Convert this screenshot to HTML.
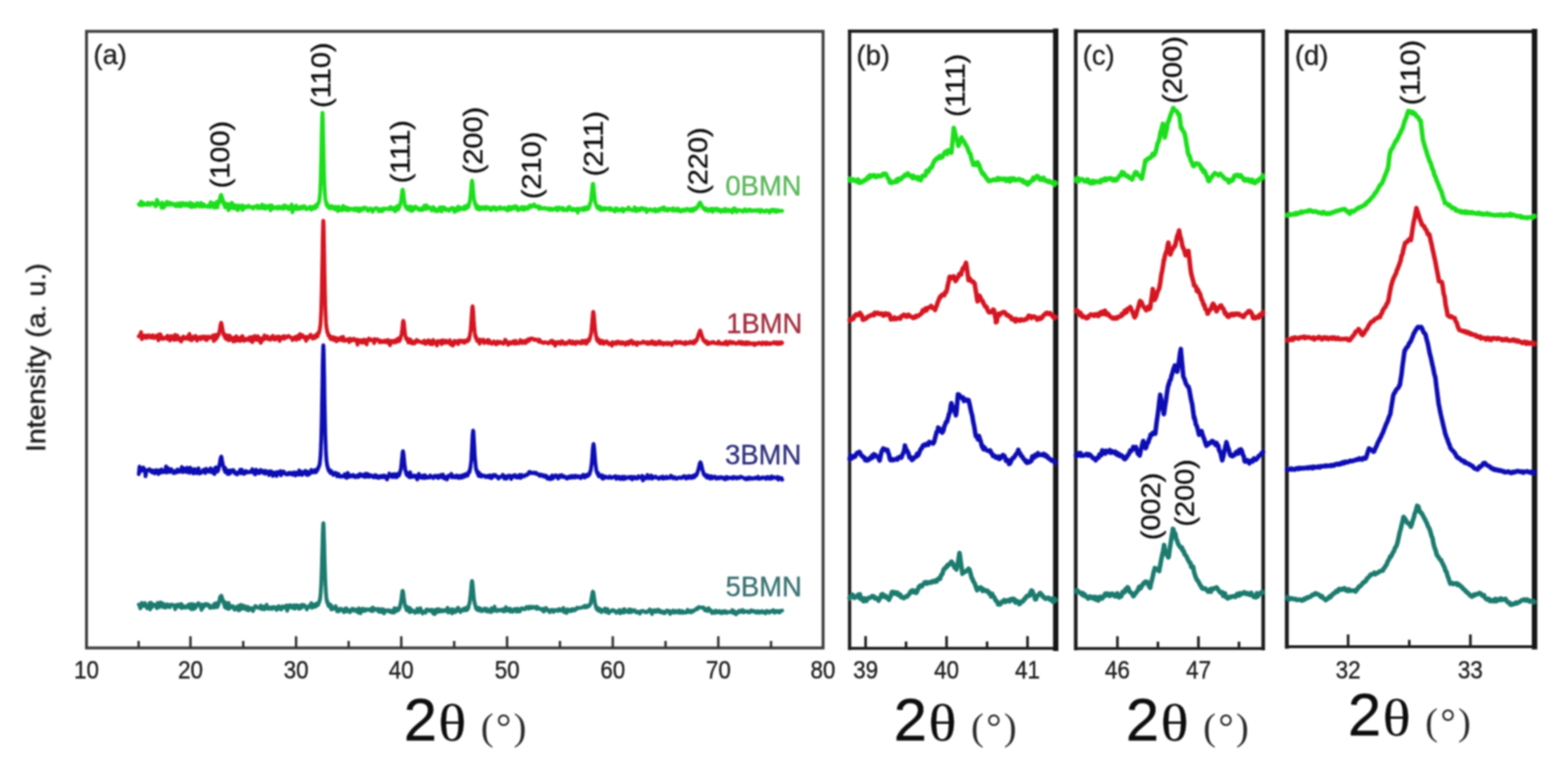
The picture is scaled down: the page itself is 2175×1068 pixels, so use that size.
<!DOCTYPE html>
<html><head><meta charset="utf-8"><title>XRD patterns</title>
<style>html,body{margin:0;padding:0;background:#fff;width:2175px;height:1068px;overflow:hidden}svg{display:block}</style>
</head><body>
<svg width="2175" height="1068" viewBox="0 0 2175 1068">
<defs><filter id="bl" x="-1%" y="-1%" width="102%" height="102%"><feGaussianBlur stdDeviation="1.25"/></filter></defs>
<rect width="2175" height="1068" fill="#fff"/>
<g filter="url(#bl)">
<g id="frames">
<rect x="120" y="43.5" width="1021.7" height="855.2" fill="none" stroke="#404040" stroke-width="4.1"/>
<line x1="264.2" y1="898.7" x2="264.2" y2="882.5" stroke="#333" stroke-width="3.4" stroke-linecap="butt"/>
<line x1="410.7" y1="898.7" x2="410.7" y2="882.5" stroke="#333" stroke-width="3.4" stroke-linecap="butt"/>
<line x1="556.6" y1="898.7" x2="556.6" y2="882.5" stroke="#333" stroke-width="3.4" stroke-linecap="butt"/>
<line x1="703.4" y1="898.7" x2="703.4" y2="882.5" stroke="#333" stroke-width="3.4" stroke-linecap="butt"/>
<line x1="850.0" y1="898.7" x2="850.0" y2="882.5" stroke="#333" stroke-width="3.4" stroke-linecap="butt"/>
<line x1="996.4" y1="898.7" x2="996.4" y2="882.5" stroke="#333" stroke-width="3.4" stroke-linecap="butt"/>
<line x1="192.3" y1="898.7" x2="192.3" y2="889.0" stroke="#333" stroke-width="3.4" stroke-linecap="butt"/>
<line x1="337.4" y1="898.7" x2="337.4" y2="889.0" stroke="#333" stroke-width="3.4" stroke-linecap="butt"/>
<line x1="483.6" y1="898.7" x2="483.6" y2="889.0" stroke="#333" stroke-width="3.4" stroke-linecap="butt"/>
<line x1="630.0" y1="898.7" x2="630.0" y2="889.0" stroke="#333" stroke-width="3.4" stroke-linecap="butt"/>
<line x1="776.7" y1="898.7" x2="776.7" y2="889.0" stroke="#333" stroke-width="3.4" stroke-linecap="butt"/>
<line x1="923.2" y1="898.7" x2="923.2" y2="889.0" stroke="#333" stroke-width="3.4" stroke-linecap="butt"/>
<line x1="1069.5" y1="898.7" x2="1069.5" y2="889.0" stroke="#333" stroke-width="3.4" stroke-linecap="butt"/>
<line x1="1178.5" y1="43.3" x2="1464.4" y2="43.3" stroke="#1e1e1e" stroke-width="4.4" stroke-linecap="square"/>
<line x1="1178.5" y1="899.3" x2="1464.4" y2="899.3" stroke="#1e1e1e" stroke-width="4.0" stroke-linecap="square"/>
<line x1="1178.5" y1="43.3" x2="1178.5" y2="899.3" stroke="#1e1e1e" stroke-width="4.6" stroke-linecap="square"/>
<line x1="1464.4" y1="43.3" x2="1464.4" y2="899.3" stroke="#161616" stroke-width="7.4" stroke-linecap="square"/>
<line x1="1200.7" y1="899.3" x2="1200.7" y2="882.3" stroke="#1e1e1e" stroke-width="3.6" stroke-linecap="butt"/>
<line x1="1313.0" y1="899.3" x2="1313.0" y2="882.3" stroke="#1e1e1e" stroke-width="3.6" stroke-linecap="butt"/>
<line x1="1425.3" y1="899.3" x2="1425.3" y2="882.3" stroke="#1e1e1e" stroke-width="3.6" stroke-linecap="butt"/>
<line x1="1256.8" y1="899.3" x2="1256.8" y2="889.8" stroke="#1e1e1e" stroke-width="3.6" stroke-linecap="butt"/>
<line x1="1369.2" y1="899.3" x2="1369.2" y2="889.8" stroke="#1e1e1e" stroke-width="3.6" stroke-linecap="butt"/>
<line x1="1492.2" y1="43.3" x2="1752.2" y2="43.3" stroke="#1e1e1e" stroke-width="4.4" stroke-linecap="square"/>
<line x1="1492.2" y1="899.5" x2="1752.2" y2="899.5" stroke="#1e1e1e" stroke-width="4.0" stroke-linecap="square"/>
<line x1="1492.2" y1="43.3" x2="1492.2" y2="899.5" stroke="#1e1e1e" stroke-width="5.0" stroke-linecap="square"/>
<line x1="1752.2" y1="43.3" x2="1752.2" y2="899.5" stroke="#1e1e1e" stroke-width="5.0" stroke-linecap="square"/>
<line x1="1550.0" y1="899.5" x2="1550.0" y2="882.5" stroke="#1e1e1e" stroke-width="3.6" stroke-linecap="butt"/>
<line x1="1662.4" y1="899.5" x2="1662.4" y2="882.5" stroke="#1e1e1e" stroke-width="3.6" stroke-linecap="butt"/>
<line x1="1606.2" y1="899.5" x2="1606.2" y2="890.0" stroke="#1e1e1e" stroke-width="3.6" stroke-linecap="butt"/>
<line x1="1718.6" y1="899.5" x2="1718.6" y2="890.0" stroke="#1e1e1e" stroke-width="3.6" stroke-linecap="butt"/>
<line x1="1785.0" y1="43.7" x2="2128.6" y2="43.7" stroke="#1e1e1e" stroke-width="4.6" stroke-linecap="square"/>
<line x1="1785.0" y1="897.0" x2="2128.6" y2="897.0" stroke="#1e1e1e" stroke-width="4.0" stroke-linecap="square"/>
<line x1="1785.0" y1="43.7" x2="1785.0" y2="897.0" stroke="#1e1e1e" stroke-width="5.4" stroke-linecap="square"/>
<line x1="2128.6" y1="43.7" x2="2128.6" y2="897.0" stroke="#141414" stroke-width="7.6" stroke-linecap="square"/>
<line x1="1870.0" y1="897.0" x2="1870.0" y2="880.0" stroke="#1e1e1e" stroke-width="3.6" stroke-linecap="butt"/>
<line x1="2039.6" y1="897.0" x2="2039.6" y2="880.0" stroke="#1e1e1e" stroke-width="3.6" stroke-linecap="butt"/>
<line x1="1954.8" y1="897.0" x2="1954.8" y2="887.5" stroke="#1e1e1e" stroke-width="3.6" stroke-linecap="butt"/>
</g>
<g id="curves">
<polyline fill="none" stroke="#1ede1e" stroke-width="5.3" stroke-linejoin="round" stroke-linecap="round" points="192.5,283.3 193.6,284.4 194.6,283.4 195.7,279.6 196.7,284.7 197.8,283.7 198.8,281.5 199.8,284.1 200.9,283.6 201.9,283.5 203.0,282.9 204.1,284.1 205.1,281.2 206.2,282.6 207.2,281.9 208.2,284.3 209.3,283.1 210.3,282.4 211.4,281.3 212.4,282.5 213.5,283.2 214.6,282.5 215.6,286.1 216.7,285.5 217.7,277.1 218.8,279.0 219.8,282.9 220.8,282.4 221.9,283.9 222.9,283.9 224.0,288.2 225.1,281.0 226.1,282.7 227.2,288.1 228.2,285.0 229.2,285.1 230.3,282.5 231.3,280.0 232.4,284.1 233.4,284.0 234.5,281.0 235.6,282.2 236.6,283.6 237.7,281.7 238.7,283.6 239.8,284.1 240.8,284.0 241.8,282.8 242.9,285.3 243.9,286.0 245.0,284.8 246.1,282.3 247.1,285.7 248.2,283.0 249.2,286.1 250.2,281.8 251.3,286.2 252.3,284.2 253.4,281.5 254.4,283.6 255.5,284.5 256.6,285.0 257.6,282.2 258.6,282.0 259.7,284.9 260.8,283.5 261.8,285.0 262.9,286.2 263.9,281.0 264.9,285.1 266.0,287.3 267.1,284.0 268.1,282.9 269.1,286.3 270.2,285.3 271.2,286.7 272.3,284.0 273.4,281.6 274.4,284.6 275.4,283.9 276.5,286.5 277.6,285.3 278.6,281.4 279.6,282.3 280.7,286.8 281.8,286.4 282.8,283.6 283.9,285.0 284.9,285.9 285.9,286.0 287.0,286.9 288.1,285.6 289.1,284.8 290.1,284.5 291.2,287.2 292.2,280.4 293.3,284.7 294.4,285.1 294.8,282.1 295.1,285.6 295.4,283.6 295.5,286.7 295.9,284.7 296.2,286.2 296.4,287.3 296.6,285.6 296.9,283.1 297.2,281.9 297.5,288.2 297.6,284.6 297.9,283.4 298.3,285.0 298.6,284.3 298.6,286.3 299.0,284.7 299.4,284.6 299.6,283.2 299.7,285.3 300.1,282.5 300.4,285.5 300.6,286.9 300.8,281.5 301.1,279.8 301.4,284.9 301.7,287.8 301.8,282.0 302.1,281.4 302.5,283.8 302.8,281.5 302.9,281.8 303.2,281.5 303.6,281.9 303.8,280.1 303.9,280.6 304.2,279.1 304.6,277.3 304.9,276.8 304.9,275.8 305.3,275.1 305.6,272.7 305.9,271.7 306.0,273.0 306.4,271.0 306.7,270.4 306.8,270.7 306.9,270.3 307.1,270.5 307.4,271.7 307.8,273.0 308.0,273.1 308.1,275.0 308.4,275.5 308.8,276.6 309.1,277.7 309.1,278.5 309.5,281.8 309.9,279.8 310.1,282.0 310.2,279.3 310.6,282.7 310.9,284.5 311.1,283.3 311.2,282.8 311.6,284.5 311.9,285.5 312.2,285.7 312.3,287.9 312.6,285.2 313.0,284.0 313.2,284.9 313.4,285.1 313.7,285.5 314.1,285.4 314.3,285.8 314.4,282.5 314.8,287.2 315.1,284.6 315.4,283.6 315.4,287.0 315.8,288.4 316.1,286.9 316.4,286.3 316.5,284.2 316.9,291.6 317.2,287.8 317.4,283.9 317.6,284.7 317.9,286.4 318.2,283.2 318.5,286.7 318.6,285.4 319.6,288.9 320.6,288.5 321.6,281.2 322.7,286.9 323.8,283.6 324.8,289.2 325.9,287.4 326.9,288.3 327.9,285.0 329.0,291.1 330.1,291.5 331.1,285.2 332.1,288.2 333.2,286.1 334.2,287.4 335.3,284.9 336.4,291.4 337.4,285.5 338.4,286.9 339.5,288.6 340.6,286.3 341.6,287.1 342.6,286.5 343.7,287.4 344.8,285.2 345.8,286.8 346.9,287.3 347.9,287.0 348.9,287.8 350.0,287.1 351.1,289.3 352.1,287.1 353.1,287.5 354.2,286.4 355.2,286.7 356.3,285.3 357.4,288.9 358.4,285.5 359.4,286.4 360.5,288.6 361.6,288.7 362.6,287.1 363.6,283.8 364.7,288.8 365.8,288.5 366.8,285.1 367.9,289.6 368.9,286.6 369.9,285.8 371.0,288.2 372.1,287.7 373.1,288.5 374.1,284.9 375.2,291.8 376.2,286.9 377.3,285.1 378.4,289.4 379.4,287.5 380.4,288.8 381.5,287.5 382.6,288.1 383.6,288.7 384.6,286.8 385.7,289.6 386.8,287.3 387.8,286.6 388.9,288.5 389.9,289.2 390.9,287.9 392.0,286.6 393.1,289.6 394.1,284.9 395.1,286.3 396.2,288.5 397.2,285.7 398.3,288.5 399.4,288.3 400.4,290.2 401.4,286.7 402.5,287.2 403.6,289.1 404.6,283.7 405.6,294.5 406.7,287.1 407.8,287.1 408.8,290.2 409.9,288.4 410.9,285.1 411.9,289.7 413.0,290.2 414.1,287.7 415.1,288.0 416.1,289.4 417.2,286.8 418.2,289.3 419.3,288.9 420.4,287.3 421.4,285.9 422.4,288.1 423.5,286.9 424.6,290.3 425.6,288.7 426.6,289.8 427.7,288.6 428.8,288.7 429.8,286.8 430.9,289.2 431.9,291.0 432.9,287.4 434.0,286.8 435.1,287.3 435.3,286.7 435.6,286.3 436.0,287.5 436.1,286.8 436.4,289.3 436.7,287.0 437.1,287.4 437.1,288.2 437.4,286.3 437.8,288.5 438.1,285.6 438.2,285.3 438.4,285.7 438.8,285.8 439.1,284.0 439.2,285.6 439.5,283.4 439.9,286.7 440.2,284.6 440.3,283.9 440.6,283.3 440.9,283.3 441.2,282.9 441.4,281.9 441.6,281.5 441.9,281.3 442.3,280.0 442.4,280.8 442.6,279.8 443.0,277.2 443.4,274.9 443.4,273.1 443.7,271.6 444.1,266.5 444.4,260.3 444.5,258.4 444.8,251.0 445.1,240.7 445.4,227.0 445.6,223.0 445.8,211.2 446.1,194.2 446.5,177.4 446.6,173.1 446.9,163.7 447.2,156.7 447.3,156.4 447.6,158.8 447.6,161.0 447.9,168.8 448.2,184.5 448.6,201.8 448.7,206.8 448.9,218.4 449.3,233.5 449.6,245.5 449.8,249.0 450.0,255.5 450.4,263.5 450.7,269.3 450.8,269.9 451.1,273.0 451.4,276.1 451.8,279.0 451.9,279.2 452.1,279.0 452.4,281.5 452.8,282.8 452.9,284.3 453.1,281.5 453.5,283.2 453.9,285.6 453.9,283.0 454.2,283.5 454.6,285.8 454.9,286.8 455.0,284.9 455.2,286.6 455.6,286.4 455.9,288.4 456.1,286.6 456.3,288.0 456.6,285.8 457.0,286.9 457.1,287.1 457.4,288.9 457.7,288.3 458.1,286.6 458.1,288.6 458.4,288.9 458.8,287.7 459.1,287.6 459.2,287.7 460.2,285.7 461.3,288.8 462.4,289.1 463.4,287.5 464.4,290.3 465.5,286.8 466.6,288.3 467.6,288.5 468.6,292.9 469.7,286.7 470.8,290.5 471.8,291.2 472.9,290.3 473.9,291.7 474.9,287.9 476.0,285.6 477.1,291.1 478.1,287.6 479.1,289.2 480.2,287.6 481.2,291.7 482.3,291.3 483.4,288.5 484.4,291.4 485.4,290.0 486.5,289.6 487.6,289.9 488.6,289.5 489.6,291.0 490.7,290.4 491.8,289.2 492.8,291.7 493.9,288.7 494.9,290.4 495.9,290.6 497.0,292.6 498.1,289.0 499.1,293.0 500.1,290.2 501.2,289.5 502.2,288.7 503.3,290.9 504.4,290.0 505.4,287.9 506.4,287.9 507.5,288.9 508.6,288.7 509.6,291.9 510.6,292.4 511.7,291.5 512.8,290.5 513.8,289.1 514.9,290.0 515.9,291.5 517.0,293.7 518.0,291.5 519.0,289.4 520.1,290.0 521.1,289.0 522.2,288.5 523.2,289.6 524.3,290.2 525.4,293.1 526.4,290.0 527.5,292.3 528.5,293.0 529.5,290.0 530.6,292.7 531.6,291.1 532.7,289.1 533.8,290.3 534.8,289.9 535.9,289.4 536.9,289.4 538.0,290.0 539.0,290.5 540.0,288.2 541.1,289.7 542.1,287.1 543.2,290.1 544.2,290.6 545.3,289.8 546.4,289.9 546.5,290.4 546.9,288.3 547.2,289.0 547.4,290.2 547.5,290.9 547.9,289.9 548.2,293.3 548.5,289.1 548.6,290.7 549.0,291.1 549.3,288.9 549.5,287.8 549.6,287.2 550.0,289.2 550.4,290.5 550.5,289.2 550.7,289.0 551.0,288.1 551.4,289.3 551.6,285.4 551.8,288.7 552.1,288.2 552.5,286.2 552.6,290.7 552.8,286.0 553.1,286.1 553.5,285.7 553.7,288.2 553.9,285.7 554.2,286.9 554.5,286.1 554.8,285.2 554.9,283.4 555.2,282.9 555.6,283.3 555.8,280.1 556.0,279.6 556.3,277.9 556.6,275.9 556.9,274.0 557.0,272.9 557.4,269.1 557.7,266.9 557.9,265.3 558.0,263.7 558.4,263.5 558.5,263.7 558.8,263.1 559.0,264.2 559.1,265.6 559.5,267.2 559.8,270.0 560.0,272.0 560.1,273.6 560.5,276.3 560.9,279.4 561.0,280.4 561.2,280.1 561.5,283.1 561.9,285.6 562.1,285.7 562.2,285.9 562.6,285.8 563.0,287.5 563.1,285.6 563.3,287.8 563.6,287.2 564.0,289.0 564.2,288.4 564.4,286.5 564.7,288.3 565.0,289.9 565.2,286.8 565.4,287.6 565.8,287.5 566.1,286.5 566.3,290.1 566.5,290.7 566.8,290.1 567.1,289.3 567.4,288.9 567.5,289.4 567.9,288.0 568.2,290.5 568.4,290.8 568.5,290.6 568.9,288.4 569.2,289.4 569.5,289.1 569.6,292.2 570.0,289.7 570.3,286.4 570.5,290.1 571.5,292.5 572.6,290.7 573.6,291.1 574.7,289.7 575.8,286.4 576.8,286.7 577.9,287.7 578.9,289.6 580.0,290.3 581.0,291.0 582.0,289.2 583.1,291.4 584.1,289.4 585.2,288.7 586.2,291.3 587.3,288.3 588.4,285.3 589.4,288.1 590.5,290.0 591.5,284.7 592.5,289.3 593.6,289.3 594.6,287.5 595.7,287.4 596.8,289.1 597.8,289.0 598.9,292.0 599.9,290.5 601.0,287.2 602.0,288.5 603.0,291.1 604.1,293.0 605.1,290.5 606.2,290.4 607.2,293.0 608.3,289.8 609.4,289.3 610.4,287.5 611.5,289.0 612.5,293.4 613.5,287.5 614.6,289.8 615.6,287.5 616.7,290.0 617.8,291.2 618.8,289.4 619.9,291.0 620.9,290.9 622.0,290.5 623.0,292.5 624.0,291.0 625.1,289.2 626.1,288.6 627.2,288.3 628.2,290.4 629.3,289.1 630.4,294.0 631.4,292.5 632.5,289.2 633.5,289.0 634.5,292.2 635.6,286.5 636.6,288.7 637.7,290.8 638.8,287.9 639.8,288.5 640.9,288.6 641.9,290.0 642.8,289.1 643.0,289.5 643.1,289.8 643.5,288.9 643.9,290.4 644.0,287.7 644.2,286.7 644.5,286.2 644.9,286.4 645.0,287.8 645.2,289.9 645.6,288.6 646.0,287.5 646.1,286.8 646.3,287.5 646.6,287.5 647.0,287.2 647.1,286.1 647.4,287.1 647.7,288.7 648.0,284.8 648.2,286.9 648.4,284.7 648.8,287.0 649.1,285.6 649.2,284.1 649.5,286.1 649.8,287.2 650.1,284.9 650.3,285.5 650.5,283.9 650.9,281.3 651.2,281.9 651.4,280.6 651.5,279.0 651.9,278.2 652.2,275.3 652.4,273.6 652.6,272.4 653.0,268.0 653.3,264.4 653.5,262.0 653.6,259.9 654.0,255.4 654.4,252.7 654.5,251.5 654.7,251.1 654.8,250.5 655.0,251.1 655.4,253.8 655.5,254.5 655.8,257.1 656.1,262.0 656.5,266.1 656.6,268.1 656.8,269.8 657.1,273.6 657.5,276.0 657.6,276.7 657.9,277.7 658.2,280.3 658.5,281.8 658.7,282.3 658.9,280.6 659.2,282.6 659.6,284.6 659.8,285.6 660.0,285.1 660.3,285.2 660.6,284.1 660.8,288.8 661.0,285.6 661.4,289.0 661.7,289.2 661.9,287.8 662.0,286.9 662.4,287.9 662.8,286.4 662.9,288.3 663.1,288.0 663.5,288.8 663.8,289.5 664.0,290.6 664.1,287.8 664.5,289.8 664.9,287.4 665.0,287.3 665.2,287.7 665.5,287.3 665.9,290.1 666.0,290.0 666.2,290.5 666.6,288.8 667.1,289.3 668.1,288.1 669.2,287.4 670.2,289.8 671.3,289.6 672.4,287.6 673.4,290.1 674.5,286.7 675.5,289.0 676.5,288.4 677.6,288.5 678.6,287.7 679.7,290.8 680.8,290.3 681.8,291.2 682.9,289.6 683.9,287.4 685.0,288.8 686.0,287.6 687.0,290.1 688.1,291.3 689.1,289.9 690.2,288.5 691.2,288.8 692.3,289.7 693.4,287.2 694.4,289.6 695.5,289.7 696.5,288.5 697.5,288.7 698.6,289.6 699.6,288.1 700.7,288.1 701.8,290.6 702.8,289.7 703.9,292.0 704.9,287.9 706.0,286.7 707.0,290.8 708.0,290.9 709.1,288.3 710.1,287.2 711.2,289.4 712.2,286.8 713.3,288.9 714.4,286.1 715.4,289.1 716.5,286.3 717.5,289.1 718.5,291.7 719.6,289.0 720.6,290.5 721.7,288.4 722.8,288.0 723.8,287.1 724.9,290.6 725.9,288.9 727.0,291.1 728.0,287.1 729.0,288.2 730.1,288.3 731.1,289.6 732.2,289.6 733.2,286.5 734.3,285.7 735.4,284.8 736.4,287.5 737.5,285.9 738.5,285.2 739.5,285.7 740.6,283.4 741.6,284.3 742.7,286.9 743.8,286.7 744.8,286.8 745.9,286.0 746.9,288.0 748.0,289.7 749.0,286.7 750.0,288.4 751.1,288.1 752.1,289.4 753.2,289.1 754.2,289.0 755.3,288.2 756.4,289.4 757.4,288.7 758.5,289.4 759.5,289.6 760.5,290.6 761.6,288.9 762.6,289.3 763.7,291.3 764.8,289.5 765.8,289.4 766.9,291.0 767.9,290.2 769.0,290.0 770.0,290.1 771.0,288.1 772.1,290.5 773.1,291.8 774.2,290.7 775.2,287.7 776.3,290.3 777.4,288.6 778.4,289.6 779.5,290.1 780.5,288.2 781.5,291.8 782.6,289.8 783.6,291.1 784.7,290.8 785.8,291.8 786.8,291.6 787.9,287.9 788.9,290.0 790.0,287.0 791.0,289.3 792.0,291.0 793.1,291.2 794.1,291.7 795.2,289.4 796.2,290.4 797.3,290.1 798.4,291.7 799.4,292.1 800.5,289.4 801.5,295.0 802.5,289.9 803.6,289.4 804.6,290.6 805.7,290.8 806.8,290.4 807.8,288.8 808.9,291.4 809.9,289.5 810.5,291.3 810.9,291.0 811.0,287.8 811.2,288.1 811.5,288.1 811.9,289.5 812.0,289.2 812.2,289.4 812.6,288.1 813.0,289.4 813.0,290.5 813.3,287.4 813.6,288.5 814.0,288.9 814.1,288.5 814.4,288.3 814.7,290.2 815.0,289.5 815.1,289.0 815.4,287.2 815.8,289.9 816.1,287.8 816.2,286.9 816.5,286.9 816.8,286.4 817.1,288.1 817.2,286.4 817.5,285.8 817.9,283.5 818.2,284.7 818.3,283.2 818.5,282.4 818.9,282.1 819.2,279.6 819.4,279.9 819.6,278.5 820.0,274.8 820.3,272.6 820.4,271.2 820.6,269.3 821.0,266.0 821.4,261.8 821.5,261.5 821.7,258.7 822.0,256.0 822.4,254.9 822.5,255.1 822.8,255.0 823.1,257.2 823.5,259.9 823.5,261.4 823.8,263.7 824.1,267.2 824.5,271.2 824.6,271.3 824.9,273.8 825.2,277.4 825.5,278.9 825.6,280.2 825.9,281.0 826.2,282.0 826.6,283.5 826.7,284.0 827.0,284.4 827.3,284.9 827.6,285.5 827.8,285.1 828.0,286.7 828.4,287.4 828.7,288.1 828.8,285.8 829.0,288.5 829.4,287.9 829.8,286.8 829.9,288.3 830.1,289.2 830.5,289.1 830.8,289.5 830.9,289.7 831.1,289.8 831.5,288.9 831.9,286.7 832.0,288.2 832.2,289.5 832.5,288.7 832.9,290.1 833.0,290.3 833.2,289.4 833.6,291.6 834.0,288.4 834.0,290.6 834.3,289.0 835.1,288.7 836.1,290.5 837.2,289.1 838.2,291.1 839.3,288.6 840.4,290.2 841.4,289.1 842.5,289.9 843.5,289.8 844.5,288.8 845.6,291.2 846.6,288.7 847.7,289.1 848.8,291.5 849.8,291.7 850.9,291.3 851.9,290.9 853.0,293.4 854.0,288.9 855.0,289.5 856.1,289.2 857.1,291.7 858.2,290.9 859.2,292.0 860.3,291.8 861.4,290.3 862.4,289.5 863.5,289.3 864.5,293.5 865.5,291.9 866.6,291.4 867.6,290.2 868.7,290.4 869.8,290.2 870.8,290.3 871.9,287.6 872.9,290.6 874.0,290.2 875.0,291.1 876.0,291.0 877.1,291.9 878.1,290.7 879.2,291.8 880.2,287.5 881.3,289.4 882.4,293.0 883.4,289.2 884.5,290.5 885.5,291.7 886.5,289.7 887.6,291.8 888.6,289.0 889.7,288.4 890.8,289.2 891.8,288.8 892.9,290.9 893.9,290.5 895.0,291.3 896.0,289.6 897.0,294.1 898.1,290.8 899.1,290.9 900.2,291.5 901.2,290.6 902.3,290.2 903.4,291.1 904.4,292.1 905.5,291.8 906.5,292.2 907.5,290.3 908.6,290.0 909.6,293.5 910.7,290.7 911.8,291.6 912.8,292.0 913.9,292.8 914.9,289.4 916.0,290.5 917.0,290.5 918.0,290.7 919.1,288.1 920.1,291.0 921.2,287.6 922.2,291.5 923.3,291.8 924.4,291.9 925.4,289.7 926.5,292.3 927.5,290.1 928.5,289.7 929.6,290.0 930.6,290.1 931.7,291.4 932.8,292.2 933.8,288.7 934.9,290.5 935.9,292.3 937.0,291.5 938.0,291.8 939.0,289.4 940.1,292.4 941.1,289.4 942.2,291.5 943.2,292.9 944.3,293.5 945.4,291.8 946.4,292.3 947.5,290.5 948.5,290.7 949.5,292.6 950.6,291.2 951.6,291.1 952.7,289.6 953.8,291.4 954.8,291.9 955.9,290.2 956.9,290.5 958.0,292.8 959.0,291.2 959.4,290.6 959.7,289.7 960.0,290.2 960.4,290.6 960.8,292.3 961.1,290.1 961.5,292.6 961.8,289.7 962.1,290.3 962.5,291.4 962.9,290.3 963.2,289.6 963.5,290.2 963.9,290.6 964.2,288.4 964.6,289.7 965.0,289.6 965.3,289.1 965.6,289.9 966.0,288.5 966.4,288.3 966.7,288.2 967.0,288.2 967.4,287.0 967.8,287.6 968.1,285.4 968.5,286.0 968.8,284.0 969.1,283.6 969.5,283.1 969.9,283.2 970.2,282.1 970.5,281.1 970.9,281.6 971.0,281.0 971.2,280.8 971.6,281.6 972.0,282.0 972.3,283.0 972.6,283.0 973.0,284.3 973.4,285.2 973.7,285.8 974.0,286.3 974.4,286.5 974.8,288.1 975.1,288.1 975.5,288.8 975.8,288.5 976.1,289.2 976.5,288.6 976.9,289.8 977.2,290.6 977.5,290.2 977.9,291.0 978.2,290.7 978.6,291.8 979.0,290.4 979.3,289.0 979.6,291.2 980.0,290.6 980.4,289.9 980.7,291.6 981.0,291.2 981.4,291.5 981.8,290.7 982.1,291.3 982.5,291.4 982.8,293.0 983.1,290.5 984.2,291.3 985.2,291.7 986.3,289.5 987.4,289.7 988.4,293.8 989.5,289.6 990.5,292.2 991.5,290.6 992.6,290.7 993.6,289.4 994.7,290.6 995.8,292.5 996.8,290.1 997.9,292.3 998.9,292.0 1000.0,293.9 1001.0,291.2 1002.0,293.1 1003.1,292.7 1004.1,291.5 1005.2,289.9 1006.2,293.5 1007.3,290.3 1008.4,291.3 1009.4,292.8 1010.5,293.1 1011.5,290.9 1012.5,291.8 1013.6,291.6 1014.6,293.2 1015.7,294.6 1016.8,289.9 1017.8,292.9 1018.9,288.8 1019.9,292.0 1021.0,290.7 1022.0,294.1 1023.0,292.1 1024.1,291.2 1025.2,291.4 1026.2,291.4 1027.2,292.2 1028.3,291.8 1029.3,292.7 1030.4,293.7 1031.5,292.8 1032.5,290.7 1033.5,290.3 1034.6,291.3 1035.7,293.2 1036.7,291.7 1037.8,291.4 1038.8,292.3 1039.8,290.6 1040.9,290.9 1042.0,292.7 1043.0,291.8 1044.0,291.7 1045.1,292.5 1046.2,291.6 1047.2,291.5 1048.2,291.7 1049.3,292.8 1050.3,292.3 1051.4,291.0 1052.5,291.9 1053.5,292.9 1054.5,294.2 1055.6,291.1 1056.7,292.6 1057.7,292.0 1058.8,293.1 1059.8,292.7 1060.8,293.8 1061.9,292.8 1063.0,291.7 1064.0,291.8 1065.0,292.7 1066.1,292.7 1067.2,294.8 1068.2,294.1 1069.2,291.2 1070.3,292.7 1071.3,291.0 1072.4,290.7 1073.5,293.1 1074.5,293.0 1075.5,291.4 1076.6,294.1 1077.7,291.4 1078.7,291.3 1079.8,293.1 1080.8,292.7 1081.8,292.3 1082.9,292.4 1084.0,292.7 1085.0,292.4"/>
<polyline fill="none" stroke="#d41820" stroke-width="5.3" stroke-linejoin="round" stroke-linecap="round" points="192.5,466.5 193.6,464.9 194.6,465.2 195.7,460.6 196.7,470.4 197.8,468.9 198.8,465.6 199.8,468.2 200.9,467.1 201.9,465.3 203.0,468.8 204.1,465.9 205.1,466.0 206.2,465.0 207.2,467.8 208.2,466.6 209.3,468.2 210.3,465.6 211.4,467.3 212.4,465.1 213.5,469.0 214.6,467.6 215.6,468.0 216.7,468.2 217.7,465.1 218.8,469.2 219.8,472.1 220.8,463.8 221.9,463.7 222.9,464.2 224.0,469.6 225.1,468.0 226.1,470.2 227.2,469.4 228.2,468.3 229.2,468.6 230.3,467.6 231.3,470.0 232.4,465.6 233.4,467.2 234.5,468.7 235.6,472.3 236.6,466.6 237.7,466.0 238.7,467.2 239.8,470.6 240.8,468.0 241.8,471.4 242.9,464.3 243.9,471.0 245.0,470.8 246.1,465.4 247.1,468.9 248.2,471.2 249.2,468.7 250.2,470.8 251.3,473.8 252.3,469.2 253.4,468.0 254.4,466.9 255.5,470.0 256.6,468.2 257.6,468.2 258.6,468.4 259.7,470.0 260.8,466.3 261.8,465.3 262.9,463.3 263.9,471.3 264.9,468.8 266.0,471.9 267.1,468.6 268.1,467.1 269.1,469.7 270.2,468.5 271.2,466.0 272.3,466.8 273.4,472.5 274.4,469.5 275.4,469.6 276.5,468.1 277.6,467.2 278.6,470.6 279.6,468.5 280.7,467.1 281.8,468.4 282.8,466.8 283.9,469.1 284.9,471.1 285.9,466.9 287.0,471.7 288.1,467.3 289.1,469.0 290.1,466.9 291.2,468.1 292.2,468.7 293.3,467.6 294.4,467.1 294.8,467.1 295.1,466.8 295.4,465.3 295.5,467.9 295.9,469.1 296.2,470.1 296.4,469.5 296.6,473.0 296.9,468.8 297.2,467.3 297.5,471.6 297.6,466.1 297.9,469.8 298.3,466.2 298.6,468.6 298.6,464.3 299.0,469.4 299.4,467.4 299.6,465.9 299.7,470.5 300.1,468.8 300.4,467.4 300.6,466.0 300.8,467.1 301.1,466.7 301.4,467.8 301.7,467.7 301.8,465.4 302.1,465.2 302.5,464.8 302.8,463.3 302.9,464.1 303.2,463.9 303.6,463.8 303.8,463.5 303.9,461.1 304.2,460.9 304.6,458.4 304.9,458.8 304.9,456.8 305.3,455.0 305.6,452.0 305.9,450.7 306.0,450.7 306.4,448.9 306.7,448.5 306.8,447.6 306.9,448.7 307.1,448.1 307.4,450.6 307.8,451.3 308.0,453.6 308.1,452.8 308.4,456.0 308.8,457.2 309.1,458.8 309.1,459.7 309.5,461.0 309.9,463.0 310.1,464.3 310.2,464.6 310.6,464.7 310.9,463.8 311.1,464.9 311.2,465.9 311.6,463.6 311.9,468.1 312.2,466.9 312.3,467.0 312.6,469.1 313.0,468.9 313.2,468.4 313.4,466.4 313.7,468.7 314.1,468.9 314.3,466.9 314.4,470.3 314.8,469.5 315.1,465.1 315.4,469.0 315.4,466.5 315.8,471.0 316.1,470.5 316.4,466.9 316.5,467.4 316.9,469.3 317.2,468.7 317.4,472.1 317.6,470.6 317.9,468.7 318.2,470.4 318.5,465.4 318.6,470.0 319.6,471.2 320.6,469.3 321.6,468.3 322.7,470.9 323.8,473.8 324.8,470.4 325.9,467.8 326.9,473.1 327.9,466.4 329.0,471.3 330.1,469.1 331.1,472.2 332.1,468.6 333.2,473.0 334.2,470.9 335.3,466.7 336.4,466.2 337.4,469.6 338.4,472.9 339.5,470.5 340.6,470.3 341.6,469.7 342.6,471.7 343.7,470.9 344.8,470.7 345.8,468.1 346.9,472.5 347.9,472.8 348.9,467.4 350.0,474.7 351.1,471.5 352.1,469.0 353.1,466.1 354.2,471.3 355.2,471.1 356.3,468.7 357.4,466.2 358.4,472.1 359.4,468.6 360.5,468.9 361.6,475.6 362.6,474.1 363.6,471.7 364.7,468.8 365.8,471.0 366.8,465.1 367.9,469.9 368.9,468.1 369.9,467.0 371.0,466.4 372.1,470.6 373.1,469.7 374.1,469.9 375.2,471.2 376.2,467.8 377.3,467.0 378.4,465.9 379.4,468.8 380.4,470.9 381.5,469.1 382.6,470.6 383.6,467.0 384.6,468.4 385.7,467.8 386.8,466.8 387.8,472.9 388.9,470.9 389.9,467.7 390.9,467.7 392.0,469.0 393.1,466.3 394.1,469.9 395.1,466.5 396.2,468.3 397.2,467.0 398.3,468.0 399.4,466.4 400.4,465.9 401.4,467.0 402.5,467.6 403.6,468.3 404.6,469.0 405.6,471.7 406.7,470.3 407.8,468.2 408.8,470.1 409.9,467.3 410.9,471.4 411.9,469.6 413.0,466.0 414.1,469.9 415.1,470.0 416.1,463.4 417.2,467.0 418.2,467.5 419.3,464.7 420.4,466.3 421.4,466.5 422.4,469.1 423.5,468.6 424.6,472.7 425.6,467.2 426.6,469.9 427.7,467.9 428.8,468.1 429.8,465.6 430.9,464.3 431.9,466.2 432.9,468.6 434.0,469.7 435.1,468.0 436.1,467.6 436.5,465.6 436.9,468.8 437.1,468.4 437.2,465.8 437.6,466.4 437.9,465.0 438.2,468.0 438.2,466.6 438.6,465.8 438.9,466.2 439.2,466.0 439.3,465.0 439.6,463.8 440.0,463.5 440.3,462.7 440.4,465.1 440.7,466.5 441.1,462.1 441.4,463.4 441.4,463.6 441.8,461.7 442.1,462.1 442.4,460.4 442.4,462.1 442.8,459.7 443.1,459.0 443.4,458.1 443.5,457.1 443.9,454.4 444.2,452.5 444.5,450.2 444.6,449.2 444.9,444.6 445.2,437.7 445.6,430.8 445.6,429.6 445.9,418.4 446.3,404.8 446.6,390.4 446.6,387.8 447.0,368.8 447.4,348.9 447.6,332.1 447.7,329.6 448.1,314.2 448.4,306.6 448.5,306.2 448.7,307.8 448.8,308.7 449.1,320.2 449.4,337.6 449.8,355.0 449.8,357.9 450.1,377.8 450.5,395.7 450.8,409.2 450.9,411.0 451.2,423.9 451.6,433.8 451.9,440.7 451.9,441.4 452.2,447.5 452.6,452.2 452.9,453.7 452.9,455.3 453.3,456.0 453.6,457.6 453.9,460.2 454.0,460.4 454.4,461.9 454.7,461.2 455.0,463.2 455.1,463.5 455.4,465.2 455.8,464.6 456.1,465.7 456.1,464.3 456.4,465.5 456.8,465.7 457.1,467.3 457.1,465.5 457.5,465.9 457.9,467.9 458.1,469.6 458.2,468.0 458.6,468.1 458.9,467.6 459.2,469.6 459.2,468.9 459.6,470.7 459.9,469.0 460.2,467.5 460.3,468.0 461.3,467.8 462.4,467.7 463.4,471.8 464.4,471.4 465.5,468.5 466.6,473.5 467.6,471.3 468.6,469.4 469.7,471.9 470.8,471.2 471.8,470.1 472.9,468.1 473.9,471.6 474.9,472.1 476.0,467.2 477.1,472.7 478.1,472.9 479.1,471.0 480.2,472.1 481.2,471.5 482.3,470.5 483.4,471.4 484.4,474.5 485.4,469.6 486.5,472.6 487.6,472.6 488.6,471.0 489.6,471.5 490.7,469.9 491.8,470.9 492.8,472.5 493.9,473.1 494.9,470.9 495.9,478.1 497.0,471.6 498.1,472.9 499.1,472.2 500.1,472.0 501.2,475.1 502.2,471.9 503.3,475.2 504.4,474.9 505.4,471.0 506.4,474.8 507.5,471.8 508.6,477.9 509.6,472.3 510.6,471.3 511.7,469.6 512.8,470.8 513.8,472.1 514.9,471.4 515.9,471.0 517.0,472.0 518.0,472.9 519.0,475.9 520.1,470.3 521.1,472.3 522.2,471.7 523.2,470.7 524.3,471.2 525.4,471.8 526.4,474.7 527.5,473.1 528.5,472.6 529.5,474.6 530.6,474.1 531.6,473.2 532.7,474.3 533.8,472.2 534.8,474.7 535.9,474.5 536.9,473.0 538.0,471.6 539.0,476.3 540.0,473.9 541.1,478.9 542.1,472.6 543.2,475.1 544.2,472.9 545.3,474.0 546.4,474.9 547.4,472.2 547.5,473.3 547.9,473.7 548.2,473.6 548.5,474.3 548.5,475.0 548.9,474.6 549.2,473.7 549.5,472.7 549.6,471.5 550.0,472.1 550.3,472.3 550.5,474.1 550.6,472.5 551.0,471.1 551.4,473.8 551.6,471.6 551.7,471.7 552.0,472.3 552.4,473.2 552.6,469.1 552.8,470.8 553.1,472.4 553.5,471.5 553.7,470.7 553.8,471.0 554.1,473.1 554.5,470.5 554.8,471.5 554.9,471.4 555.2,469.5 555.5,469.6 555.8,468.1 555.9,467.6 556.2,466.0 556.6,466.0 556.9,463.7 557.0,463.1 557.3,460.4 557.6,459.2 557.9,456.5 558.0,455.2 558.4,451.8 558.7,448.4 559.0,447.2 559.0,446.6 559.4,444.9 559.5,445.6 559.8,445.9 560.0,446.5 560.1,447.3 560.5,450.1 560.8,453.5 561.0,455.7 561.1,455.9 561.5,460.4 561.9,462.4 562.1,464.6 562.2,465.2 562.5,466.0 562.9,467.9 563.1,469.1 563.2,469.5 563.6,469.5 564.0,469.7 564.2,470.8 564.3,470.0 564.6,470.7 565.0,469.3 565.2,472.1 565.4,470.7 565.7,471.6 566.0,472.4 566.3,473.0 566.4,475.2 566.8,473.1 567.1,471.0 567.4,473.2 567.5,472.2 567.8,473.8 568.1,472.3 568.4,472.3 568.5,472.6 568.9,472.5 569.2,470.8 569.5,472.6 569.5,473.6 569.9,475.5 570.2,473.3 570.5,473.2 570.6,474.7 571.0,474.7 571.3,476.4 571.5,474.8 572.6,474.0 573.6,476.2 574.7,476.6 575.8,473.4 576.8,474.5 577.9,471.5 578.9,473.8 580.0,472.9 581.0,474.1 582.0,473.7 583.1,474.2 584.1,474.4 585.2,475.4 586.2,475.0 587.3,473.7 588.4,472.5 589.4,476.7 590.5,477.1 591.5,473.9 592.5,475.7 593.6,472.2 594.6,472.2 595.7,474.3 596.8,477.3 597.8,473.1 598.9,473.5 599.9,477.6 601.0,471.7 602.0,476.0 603.0,475.7 604.1,474.5 605.1,475.2 606.2,479.2 607.2,473.0 608.3,474.4 609.4,474.5 610.4,473.7 611.5,472.6 612.5,477.5 613.5,475.2 614.6,472.0 615.6,473.7 616.7,475.5 617.8,475.5 618.8,472.5 619.9,474.7 620.9,475.3 622.0,475.5 623.0,475.5 624.0,471.9 625.1,477.8 626.1,475.1 627.2,477.7 628.2,479.3 629.3,474.5 630.4,472.8 631.4,476.1 632.5,474.4 633.5,473.9 634.5,473.0 635.6,477.2 636.6,473.9 637.7,472.4 638.8,473.8 639.8,472.6 640.9,474.5 641.9,473.5 643.0,472.5 643.5,474.8 643.9,473.0 644.0,474.8 644.2,475.5 644.5,473.2 644.9,472.8 645.0,473.9 645.2,474.7 645.6,473.5 646.0,473.5 646.1,473.3 646.3,473.6 646.6,473.9 647.0,472.1 647.1,472.3 647.4,472.8 647.7,471.8 648.0,472.5 648.2,472.9 648.4,472.1 648.8,471.2 649.1,470.7 649.2,473.2 649.5,472.0 649.8,469.6 650.1,469.4 650.3,471.6 650.5,470.8 650.9,468.8 651.2,468.5 651.4,466.0 651.5,466.3 651.9,465.0 652.2,461.4 652.4,460.9 652.6,460.0 653.0,456.8 653.3,452.1 653.5,450.4 653.6,448.0 654.0,442.1 654.4,436.3 654.5,434.3 654.7,431.2 655.0,427.4 655.4,425.1 655.5,424.8 655.5,425.4 655.8,425.6 656.1,428.8 656.5,433.6 656.6,436.0 656.8,439.1 657.1,444.7 657.5,449.6 657.6,451.2 657.9,454.0 658.2,457.8 658.5,460.8 658.7,462.1 658.9,463.0 659.2,466.2 659.6,468.0 659.8,465.9 660.0,468.1 660.3,468.5 660.6,467.5 660.8,470.5 661.0,469.9 661.4,470.6 661.7,470.7 661.9,472.6 662.0,473.0 662.4,472.3 662.8,473.0 662.9,472.2 663.1,472.6 663.5,471.8 663.8,472.9 664.0,472.1 664.1,473.5 664.5,474.2 664.9,473.7 665.0,474.8 665.2,476.8 665.5,470.8 665.9,473.6 666.0,472.9 666.2,473.1 666.6,471.9 667.0,473.9 667.1,473.5 667.3,473.0 668.1,473.7 669.2,473.3 670.2,470.9 671.3,475.9 672.4,474.0 673.4,473.1 674.5,475.0 675.5,473.6 676.5,471.4 677.6,476.0 678.6,472.1 679.7,474.4 680.8,474.9 681.8,476.8 682.9,476.6 683.9,475.0 685.0,473.6 686.0,474.2 687.0,476.5 688.1,477.6 689.1,475.7 690.2,473.8 691.2,476.4 692.3,474.3 693.4,474.2 694.4,474.4 695.5,475.8 696.5,475.3 697.5,476.4 698.6,476.8 699.6,475.7 700.7,471.3 701.8,472.3 702.8,475.1 703.9,474.8 704.9,478.2 706.0,474.9 707.0,474.7 708.0,476.3 709.1,476.5 710.1,474.6 711.2,475.6 712.2,473.2 713.3,473.5 714.4,476.8 715.4,472.8 716.5,476.3 717.5,475.9 718.5,476.1 719.6,476.3 720.6,475.7 721.7,471.7 722.8,473.4 723.8,473.9 724.9,476.0 725.9,473.0 727.0,473.5 728.0,473.8 729.0,475.8 730.1,472.0 731.1,471.8 732.2,473.7 733.2,470.3 734.3,472.3 735.4,471.1 736.4,469.6 737.5,470.2 738.5,469.5 739.5,470.3 740.6,470.5 741.6,471.6 742.7,470.7 743.8,471.2 744.8,471.1 745.9,472.1 746.9,473.7 748.0,471.0 749.0,474.3 750.0,473.3 751.1,474.3 752.1,474.9 753.2,475.8 754.2,475.1 755.3,474.4 756.4,475.4 757.4,475.0 758.5,474.8 759.5,475.4 760.5,476.4 761.6,475.3 762.6,475.4 763.7,473.3 764.8,475.0 765.8,472.5 766.9,476.2 767.9,473.9 769.0,477.1 770.0,479.5 771.0,474.7 772.1,477.1 773.1,475.8 774.2,474.5 775.2,474.1 776.3,476.1 777.4,477.2 778.4,475.8 779.5,473.1 780.5,473.8 781.5,474.9 782.6,477.2 783.6,475.7 784.7,475.7 785.8,477.0 786.8,475.0 787.9,475.2 788.9,475.0 790.0,472.8 791.0,475.9 792.0,475.8 793.1,476.6 794.1,473.6 795.2,474.1 796.2,476.5 797.3,475.7 798.4,477.1 799.4,474.0 800.5,475.4 801.5,474.2 802.5,475.5 803.6,474.4 804.6,475.7 805.7,476.4 806.8,475.8 807.8,472.6 808.9,475.9 809.9,475.2 811.0,473.3 811.0,473.4 811.4,474.4 811.7,475.0 812.0,473.8 812.0,472.4 812.4,474.5 812.8,474.3 813.0,476.8 813.1,472.6 813.5,476.7 813.8,475.7 814.1,474.0 814.1,475.4 814.5,473.6 814.9,474.4 815.1,472.5 815.2,473.3 815.5,472.0 815.9,471.2 816.2,472.2 816.2,471.8 816.6,472.6 817.0,472.8 817.2,471.2 817.3,471.3 817.6,470.9 818.0,468.8 818.3,469.5 818.4,469.2 818.7,468.1 819.0,466.2 819.4,464.4 819.4,465.0 819.8,463.2 820.1,461.1 820.4,458.4 820.5,458.1 820.8,454.2 821.1,450.4 821.5,446.4 821.5,445.9 821.9,441.6 822.2,437.8 822.5,434.6 822.5,434.0 822.9,432.9 823.0,432.5 823.2,433.1 823.5,434.9 823.6,435.2 824.0,439.2 824.3,443.4 824.6,446.9 824.6,447.7 825.0,451.8 825.4,455.9 825.6,458.4 825.7,458.7 826.0,461.5 826.4,463.8 826.7,465.8 826.8,465.4 827.1,467.4 827.5,468.9 827.8,471.1 827.8,470.2 828.1,468.2 828.5,470.6 828.8,471.2 828.9,471.8 829.2,473.3 829.5,473.0 829.9,470.5 829.9,472.9 830.2,473.0 830.6,473.5 830.9,474.7 831.0,472.3 831.3,474.6 831.6,472.0 832.0,473.9 832.0,474.2 832.4,476.4 832.7,473.3 833.0,472.3 833.0,474.9 833.4,473.5 833.8,476.1 834.0,473.6 834.1,473.4 834.5,475.9 834.8,474.7 835.1,475.8 836.1,473.1 837.2,476.9 838.2,474.3 839.3,476.1 840.4,473.9 841.4,473.3 842.5,475.0 843.5,475.6 844.5,477.4 845.6,475.9 846.6,476.4 847.7,476.3 848.8,479.5 849.8,474.5 850.9,477.2 851.9,475.4 853.0,475.9 854.0,474.9 855.0,477.1 856.1,474.0 857.1,473.9 858.2,475.4 859.2,474.2 860.3,476.6 861.4,476.9 862.4,474.7 863.5,476.7 864.5,474.9 865.5,475.7 866.6,475.7 867.6,478.2 868.7,475.7 869.8,474.6 870.8,474.6 871.9,477.3 872.9,473.6 874.0,475.2 875.0,475.3 876.0,472.6 877.1,475.2 878.1,477.1 879.2,476.1 880.2,474.7 881.3,476.7 882.4,476.5 883.4,478.4 884.5,474.9 885.5,475.4 886.5,475.9 887.6,475.7 888.6,476.0 889.7,475.8 890.8,475.0 891.8,473.9 892.9,475.2 893.9,474.1 895.0,474.6 896.0,475.2 897.0,476.6 898.1,477.0 899.1,474.6 900.2,476.3 901.2,476.9 902.3,475.9 903.4,473.9 904.4,473.2 905.5,476.9 906.5,477.1 907.5,476.3 908.6,474.6 909.6,477.7 910.7,477.4 911.8,475.9 912.8,475.7 913.9,473.5 914.9,476.9 916.0,474.0 917.0,476.8 918.0,476.8 919.1,476.1 920.1,477.9 921.2,475.6 922.2,476.7 923.3,476.9 924.4,476.3 925.4,475.4 926.5,477.5 927.5,476.5 928.5,475.7 929.6,475.8 930.6,476.1 931.7,478.7 932.8,476.1 933.8,475.7 934.9,474.7 935.9,474.5 937.0,473.7 938.0,476.2 939.0,476.0 940.1,474.7 941.1,474.2 942.2,475.5 943.2,475.3 944.3,474.3 945.4,476.2 946.4,476.0 947.5,475.8 948.5,476.7 949.5,475.1 950.6,477.4 951.6,474.6 952.7,476.3 953.8,476.4 954.8,475.4 955.9,476.0 956.9,474.1 958.0,473.8 959.0,475.1 959.4,474.5 959.7,475.8 960.0,475.2 960.4,475.7 960.8,475.4 961.1,475.2 961.5,475.0 961.8,474.5 962.1,474.3 962.5,476.5 962.9,472.9 963.2,474.2 963.5,475.1 963.9,474.4 964.2,475.0 964.6,474.0 965.0,472.2 965.3,472.6 965.6,471.4 966.0,472.6 966.4,472.3 966.7,470.4 967.0,470.3 967.4,468.9 967.8,467.4 968.1,466.9 968.5,465.3 968.8,464.5 969.1,463.6 969.5,462.5 969.9,461.5 970.2,460.1 970.5,459.6 970.9,459.3 971.0,459.3 971.2,458.4 971.6,459.5 972.0,460.8 972.3,461.2 972.6,462.9 973.0,464.3 973.4,464.5 973.7,466.4 974.0,467.7 974.4,468.6 974.8,468.7 975.1,470.5 975.5,470.7 975.8,472.2 976.1,472.5 976.5,472.2 976.9,473.2 977.2,472.8 977.5,473.1 977.9,472.6 978.2,473.9 978.6,475.0 979.0,474.5 979.3,474.5 979.6,474.1 980.0,474.3 980.4,475.6 980.7,473.5 981.0,477.0 981.4,475.0 981.8,477.3 982.1,476.4 982.5,474.8 982.8,476.0 983.1,475.6 984.2,475.9 985.2,476.4 986.3,475.0 987.4,475.0 988.4,475.3 989.5,474.3 990.5,475.5 991.5,476.1 992.6,476.1 993.6,476.1 994.7,475.5 995.8,476.8 996.8,473.7 997.9,475.5 998.9,475.6 1000.0,477.0 1001.0,476.7 1002.0,476.9 1003.1,476.0 1004.1,477.1 1005.2,474.9 1006.2,476.1 1007.3,473.7 1008.4,477.9 1009.4,477.8 1010.5,475.4 1011.5,475.1 1012.5,473.8 1013.6,474.4 1014.6,476.2 1015.7,475.9 1016.8,474.5 1017.8,475.5 1018.9,475.4 1019.9,476.6 1021.0,476.9 1022.0,475.9 1023.0,476.2 1024.1,476.1 1025.2,473.9 1026.2,476.3 1027.2,476.1 1028.3,477.0 1029.3,474.2 1030.4,477.0 1031.5,475.5 1032.5,476.4 1033.5,477.5 1034.6,474.6 1035.7,474.8 1036.7,477.2 1037.8,475.0 1038.8,475.2 1039.8,476.8 1040.9,476.0 1042.0,477.0 1043.0,476.5 1044.0,476.2 1045.1,477.3 1046.2,478.5 1047.2,476.1 1048.2,477.8 1049.3,477.4 1050.3,476.4 1051.4,476.7 1052.5,475.3 1053.5,475.6 1054.5,476.5 1055.6,476.2 1056.7,477.6 1057.7,474.9 1058.8,476.0 1059.8,475.6 1060.8,476.1 1061.9,477.5 1063.0,475.0 1064.0,477.2 1065.0,475.7 1066.1,476.0 1067.2,477.3 1068.2,476.0 1069.2,477.0 1070.3,476.4 1071.3,476.1 1072.4,475.9 1073.5,474.6 1074.5,475.6 1075.5,476.5 1076.6,476.5 1077.7,474.8 1078.7,477.3 1079.8,476.9 1080.8,475.0 1081.8,475.3 1082.9,476.9 1084.0,474.6 1085.0,475.6"/>
<polyline fill="none" stroke="#1010b4" stroke-width="5.3" stroke-linejoin="round" stroke-linecap="round" points="192.5,657.7 193.6,647.1 194.6,654.0 195.7,651.7 196.7,652.0 197.8,652.5 198.8,648.4 199.8,652.5 200.9,651.1 201.9,660.6 203.0,653.6 204.1,652.2 205.1,652.4 206.2,651.5 207.2,650.7 208.2,652.2 209.3,654.2 210.3,652.5 211.4,655.2 212.4,652.6 213.5,653.1 214.6,656.6 215.6,654.3 216.7,652.0 217.7,652.7 218.8,654.3 219.8,657.5 220.8,652.5 221.9,652.6 222.9,655.4 224.0,651.1 225.1,652.5 226.1,655.1 227.2,654.4 228.2,653.4 229.2,654.7 230.3,646.8 231.3,655.4 232.4,651.0 233.4,649.4 234.5,653.8 235.6,654.7 236.6,652.2 237.7,650.8 238.7,653.2 239.8,653.1 240.8,656.3 241.8,654.9 242.9,653.6 243.9,655.7 245.0,652.8 246.1,651.2 247.1,654.5 248.2,654.5 249.2,652.8 250.2,651.5 251.3,653.7 252.3,647.8 253.4,654.8 254.4,654.3 255.5,649.7 256.6,653.4 257.6,651.2 258.6,654.9 259.7,648.8 260.8,651.3 261.8,654.8 262.9,655.8 263.9,648.6 264.9,652.2 266.0,654.0 267.1,652.0 268.1,656.7 269.1,650.7 270.2,654.1 271.2,651.0 272.3,656.3 273.4,653.2 274.4,652.5 275.4,649.6 276.5,656.9 277.6,654.9 278.6,654.9 279.6,655.7 280.7,654.0 281.8,651.9 282.8,651.6 283.9,651.6 284.9,656.1 285.9,650.2 287.0,652.0 288.1,652.6 289.1,653.7 290.1,654.4 291.2,650.6 292.2,649.6 293.3,653.1 294.4,655.4 294.8,654.5 295.1,653.4 295.4,652.3 295.5,653.5 295.9,652.4 296.2,654.4 296.4,651.3 296.6,653.1 296.9,652.5 297.2,653.7 297.5,653.1 297.6,657.5 297.9,655.4 298.3,655.3 298.6,648.7 298.6,651.8 299.0,651.3 299.4,653.2 299.6,648.2 299.7,654.2 300.1,653.9 300.4,649.7 300.6,650.2 300.8,650.4 301.1,651.6 301.4,652.3 301.7,654.2 301.8,650.7 302.1,651.7 302.5,650.3 302.8,652.0 302.9,650.5 303.2,650.4 303.6,646.7 303.8,646.8 303.9,645.9 304.2,646.7 304.6,644.2 304.9,642.2 304.9,641.5 305.3,640.2 305.6,637.4 305.9,636.0 306.0,636.2 306.4,635.8 306.7,633.7 306.8,633.5 306.9,633.3 307.1,633.4 307.4,635.4 307.8,637.3 308.0,638.3 308.1,639.0 308.4,641.0 308.8,643.0 309.1,642.9 309.1,644.3 309.5,646.3 309.9,646.7 310.1,647.8 310.2,647.7 310.6,649.1 310.9,651.3 311.1,650.1 311.2,650.6 311.6,652.4 311.9,652.6 312.2,654.5 312.3,648.7 312.6,653.6 313.0,651.6 313.2,652.8 313.4,654.0 313.7,654.6 314.1,654.7 314.3,653.3 314.4,655.9 314.8,652.6 315.1,653.0 315.4,654.8 315.4,652.3 315.8,657.4 316.1,655.4 316.4,657.6 316.5,653.5 316.9,652.9 317.2,654.0 317.4,655.1 317.6,652.6 317.9,654.5 318.2,653.8 318.5,657.0 318.6,652.6 319.6,656.1 320.6,652.9 321.6,652.3 322.7,652.9 323.8,652.0 324.8,654.8 325.9,656.7 326.9,655.0 327.9,656.0 329.0,658.1 330.1,655.4 331.1,655.3 332.1,654.3 333.2,651.6 334.2,656.5 335.3,651.4 336.4,656.3 337.4,655.0 338.4,657.3 339.5,654.9 340.6,653.4 341.6,655.8 342.6,653.9 343.7,654.7 344.8,655.2 345.8,654.9 346.9,654.8 347.9,653.5 348.9,654.8 350.0,650.8 351.1,654.9 352.1,652.8 353.1,657.5 354.2,657.9 355.2,651.3 356.3,655.6 357.4,655.1 358.4,653.2 359.4,656.4 360.5,654.4 361.6,651.8 362.6,654.9 363.6,655.1 364.7,655.6 365.8,653.0 366.8,656.7 367.9,657.0 368.9,653.2 369.9,654.2 371.0,655.4 372.1,654.4 373.1,659.0 374.1,656.0 375.2,653.6 376.2,654.0 377.3,655.5 378.4,660.2 379.4,655.3 380.4,655.9 381.5,656.7 382.6,655.6 383.6,660.2 384.6,654.6 385.7,657.2 386.8,656.0 387.8,657.0 388.9,653.4 389.9,659.2 390.9,655.5 392.0,655.9 393.1,654.0 394.1,654.4 395.1,656.9 396.2,657.7 397.2,657.3 398.3,658.2 399.4,657.2 400.4,655.9 401.4,657.5 402.5,657.0 403.6,655.7 404.6,657.3 405.6,658.4 406.7,656.3 407.8,655.2 408.8,657.3 409.9,659.5 410.9,655.5 411.9,655.7 413.0,655.6 414.1,658.2 415.1,652.5 416.1,656.6 417.2,658.1 418.2,654.4 419.3,658.6 420.4,656.8 421.4,654.8 422.4,656.1 423.5,653.0 424.6,654.7 425.6,658.8 426.6,654.1 427.7,658.6 428.8,655.3 429.8,656.9 430.9,655.3 431.9,651.7 432.9,654.2 434.0,655.2 435.1,653.0 436.1,652.5 436.5,654.7 436.9,653.2 437.1,651.8 437.2,653.0 437.6,654.8 437.9,653.0 438.2,654.5 438.2,655.2 438.6,653.2 438.9,651.6 439.2,651.2 439.3,652.5 439.6,653.2 440.0,652.1 440.3,652.0 440.4,651.0 440.7,651.2 441.1,650.0 441.4,649.6 441.4,648.7 441.8,647.8 442.1,647.9 442.4,646.6 442.4,646.5 442.8,646.4 443.1,644.4 443.4,644.5 443.5,643.1 443.9,639.8 444.2,637.1 444.5,633.2 444.6,632.1 444.9,626.8 445.2,618.6 445.6,609.7 445.6,608.9 445.9,596.1 446.3,581.0 446.6,565.5 446.6,562.7 447.0,542.9 447.4,521.7 447.6,504.8 447.7,502.3 448.1,486.9 448.4,479.3 448.5,478.9 448.7,480.6 448.8,481.4 449.1,492.8 449.4,510.4 449.8,528.2 449.8,531.0 450.1,551.7 450.5,571.2 450.8,585.8 450.9,588.1 451.2,602.3 451.6,614.1 451.9,621.5 451.9,622.8 452.2,628.9 452.6,634.7 452.9,639.2 452.9,638.7 453.3,641.6 453.6,643.5 453.9,646.1 454.0,646.1 454.4,646.6 454.7,649.1 455.0,649.7 455.1,650.2 455.4,649.9 455.8,652.7 456.1,652.1 456.1,651.7 456.4,651.9 456.8,652.6 457.1,654.1 457.1,653.0 457.5,654.9 457.9,654.7 458.1,655.9 458.2,655.3 458.6,654.6 458.9,652.7 459.2,655.6 459.2,656.2 459.6,655.7 459.9,656.4 460.2,655.3 460.3,655.4 461.3,655.1 462.4,658.7 463.4,657.4 464.4,656.7 465.5,655.7 466.6,657.7 467.6,660.5 468.6,659.1 469.7,657.4 470.8,661.0 471.8,661.2 472.9,660.5 473.9,660.3 474.9,661.0 476.0,660.0 477.1,660.5 478.1,657.8 479.1,661.9 480.2,659.7 481.2,662.9 482.3,655.8 483.4,660.7 484.4,661.2 485.4,658.9 486.5,660.3 487.6,660.9 488.6,660.6 489.6,658.7 490.7,659.4 491.8,661.5 492.8,662.0 493.9,659.9 494.9,659.9 495.9,660.2 497.0,661.7 498.1,658.0 499.1,657.5 500.1,660.2 501.2,658.0 502.2,658.9 503.3,660.2 504.4,660.9 505.4,658.2 506.4,661.5 507.5,657.0 508.6,661.1 509.6,657.4 510.6,657.9 511.7,661.4 512.8,659.5 513.8,658.9 514.9,659.5 515.9,661.1 517.0,660.2 518.0,660.3 519.0,662.2 520.1,659.1 521.1,659.6 522.2,659.5 523.2,662.5 524.3,662.2 525.4,662.8 526.4,660.5 527.5,660.3 528.5,662.0 529.5,659.9 530.6,662.0 531.6,661.8 532.7,659.4 533.8,660.5 534.8,660.4 535.9,663.6 536.9,665.0 538.0,660.5 539.0,660.6 540.0,656.8 541.1,660.9 542.1,660.5 543.2,658.7 544.2,661.7 545.3,657.8 546.4,659.9 547.0,660.4 547.4,658.2 547.4,661.4 547.7,661.7 548.0,657.9 548.4,657.8 548.5,660.9 548.8,659.8 549.1,658.0 549.5,659.3 549.5,659.6 549.8,659.4 550.1,660.7 550.5,660.0 550.5,661.9 550.9,661.2 551.2,660.1 551.5,660.5 551.6,660.7 551.9,659.8 552.2,657.1 552.6,659.4 552.6,658.4 553.0,660.0 553.3,657.9 553.6,657.9 553.7,657.6 554.0,658.6 554.4,656.4 554.7,655.1 554.8,655.5 555.0,654.0 555.4,653.2 555.8,651.5 555.8,651.4 556.1,650.7 556.5,646.9 556.8,644.3 556.9,643.7 557.1,641.3 557.5,637.0 557.9,633.4 557.9,633.1 558.2,630.3 558.5,627.4 558.9,625.9 559.0,625.8 559.0,626.1 559.2,626.8 559.6,628.5 560.0,631.6 560.0,632.2 560.3,634.9 560.6,638.9 561.0,642.3 561.0,643.1 561.4,645.6 561.7,647.5 562.0,651.2 562.1,651.8 562.4,652.1 562.8,654.0 563.1,655.1 563.1,655.7 563.5,654.4 563.8,658.1 564.1,656.6 564.2,658.5 564.5,657.7 564.9,657.5 565.2,658.1 565.2,659.4 565.5,657.5 565.9,658.3 566.2,658.3 566.3,656.8 566.6,660.9 567.0,660.1 567.3,659.4 567.4,661.0 567.6,658.2 568.0,659.6 568.4,662.2 568.4,661.2 568.7,656.6 569.0,655.0 569.4,658.5 569.5,661.6 569.8,659.3 570.1,659.8 570.5,661.1 570.5,658.8 570.8,660.5 571.5,661.5 572.6,661.2 573.6,661.1 574.7,659.6 575.8,661.5 576.8,660.0 577.9,662.9 578.9,665.0 580.0,659.6 581.0,657.2 582.0,660.1 583.1,661.5 584.1,662.6 585.2,662.7 586.2,659.6 587.3,659.6 588.4,663.1 589.4,659.1 590.5,662.8 591.5,660.6 592.5,662.3 593.6,662.2 594.6,662.3 595.7,662.4 596.8,659.4 597.8,661.5 598.9,661.0 599.9,661.5 601.0,663.1 602.0,660.6 603.0,659.9 604.1,659.8 605.1,660.5 606.2,662.3 607.2,659.7 608.3,663.0 609.4,661.5 610.4,660.7 611.5,658.9 612.5,661.5 613.5,662.2 614.6,658.2 615.6,663.0 616.7,663.7 617.8,661.6 618.8,661.8 619.9,664.9 620.9,663.0 622.0,659.6 623.0,661.0 624.0,660.8 625.1,660.8 626.1,657.2 627.2,662.2 628.2,660.0 629.3,661.2 630.4,660.7 631.4,662.3 632.5,660.4 633.5,659.6 634.5,661.6 635.6,662.9 636.6,660.2 637.7,662.7 638.8,661.0 639.8,659.7 640.9,662.6 641.9,659.1 643.0,661.5 644.0,659.2 644.3,660.4 644.6,658.2 645.0,658.6 645.0,661.0 645.4,659.8 645.7,659.5 646.0,658.8 646.1,659.9 646.4,657.5 646.8,657.7 647.1,658.7 647.1,657.9 647.5,657.9 647.8,658.4 648.1,658.1 648.2,658.0 648.5,659.8 648.9,658.8 649.2,658.6 649.2,657.3 649.5,656.5 649.9,655.2 650.2,655.7 650.3,654.2 650.6,654.9 651.0,655.2 651.3,654.9 651.4,654.2 651.6,652.0 652.0,651.4 652.4,648.8 652.4,649.4 652.7,646.8 653.0,644.3 653.4,641.3 653.5,640.1 653.8,636.7 654.1,630.8 654.5,624.7 654.5,624.1 654.8,618.5 655.1,611.2 655.5,604.9 655.5,603.8 655.9,599.9 656.2,597.6 656.3,597.3 656.5,598.1 656.6,598.3 656.9,601.8 657.2,607.6 657.6,614.3 657.6,615.2 658.0,620.8 658.3,627.9 658.6,633.1 658.7,633.8 659.0,638.2 659.4,641.2 659.7,645.3 659.8,645.7 660.0,648.2 660.4,650.9 660.8,652.1 660.8,650.8 661.1,652.9 661.5,654.3 661.8,655.1 661.9,654.1 662.1,654.3 662.5,656.8 662.9,657.1 662.9,656.9 663.2,655.6 663.5,659.3 663.9,654.9 664.0,657.6 664.2,660.4 664.6,658.3 665.0,658.9 665.0,657.4 665.3,660.4 665.6,657.5 666.0,659.5 666.0,659.4 666.4,658.1 666.7,660.5 667.0,657.8 667.1,658.7 667.4,659.6 667.8,659.3 668.1,660.5 668.1,661.1 669.2,659.7 670.2,659.6 671.3,659.7 672.4,660.0 673.4,661.8 674.5,660.4 675.5,661.4 676.5,660.7 677.6,659.7 678.6,662.2 679.7,659.5 680.8,661.1 681.8,663.3 682.9,659.5 683.9,661.0 685.0,658.8 686.0,660.4 687.0,658.9 688.1,660.7 689.1,660.4 690.2,661.4 691.2,663.7 692.3,661.7 693.4,662.3 694.4,661.2 695.5,660.9 696.5,660.0 697.5,658.6 698.6,661.4 699.6,663.8 700.7,662.1 701.8,660.5 702.8,663.9 703.9,660.7 704.9,660.4 706.0,659.5 707.0,659.9 708.0,661.0 709.1,664.4 710.1,661.1 711.2,659.8 712.2,660.5 713.3,661.1 714.4,658.8 715.4,661.6 716.5,662.4 717.5,661.8 718.5,662.2 719.6,659.4 720.6,658.8 721.7,662.9 722.8,662.5 723.8,658.8 724.9,660.9 725.9,660.4 727.0,660.8 728.0,660.0 729.0,658.8 730.1,659.2 731.1,658.7 732.2,658.0 733.2,655.9 734.3,654.5 735.4,656.0 736.4,655.0 737.5,656.2 738.5,656.3 739.5,655.8 740.6,655.4 741.6,655.8 742.7,656.9 743.8,655.8 744.8,657.5 745.9,657.8 746.9,657.9 748.0,659.6 749.0,658.0 750.0,660.1 751.1,658.6 752.1,659.1 753.2,659.0 754.2,661.1 755.3,659.6 756.4,661.1 757.4,659.7 758.5,662.8 759.5,664.0 760.5,661.8 761.6,663.9 762.6,662.4 763.7,664.7 764.8,661.8 765.8,659.4 766.9,663.8 767.9,661.5 769.0,660.2 770.0,660.8 771.0,659.4 772.1,661.5 773.1,660.2 774.2,663.8 775.2,662.7 776.3,659.4 777.4,659.6 778.4,660.9 779.5,659.0 780.5,661.6 781.5,661.7 782.6,660.7 783.6,661.0 784.7,662.5 785.8,663.7 786.8,663.8 787.9,661.8 788.9,662.9 790.0,660.7 791.0,662.3 792.0,660.4 793.1,662.7 794.1,660.0 795.2,660.4 796.2,661.7 797.3,662.4 798.4,659.7 799.4,660.9 800.5,661.8 801.5,661.9 802.5,660.5 803.6,661.7 804.6,661.1 805.7,663.2 806.8,662.1 807.8,659.6 808.9,658.5 809.9,661.2 811.0,662.3 811.3,661.0 811.6,661.8 812.0,660.1 812.4,659.1 812.7,661.3 813.0,660.5 813.4,661.0 813.8,658.7 814.1,660.2 814.5,659.2 814.8,660.5 815.1,659.0 815.5,658.7 815.9,658.5 816.2,659.9 816.5,658.5 816.9,657.5 817.2,656.8 817.6,656.3 818.0,657.5 818.3,654.5 818.6,654.2 819.0,653.8 819.4,652.6 819.7,650.0 820.0,648.1 820.4,645.3 820.8,642.1 821.1,638.1 821.5,634.3 821.8,629.5 822.1,625.2 822.5,620.6 822.9,617.8 823.2,616.0 823.3,615.9 823.5,616.7 823.9,618.7 824.2,622.6 824.6,626.6 825.0,631.8 825.3,635.8 825.6,639.5 826.0,643.4 826.4,646.7 826.7,648.6 827.0,651.2 827.4,653.8 827.8,654.6 828.1,655.2 828.5,655.7 828.8,657.3 829.1,656.3 829.5,655.5 829.9,657.8 830.2,657.8 830.5,660.6 830.9,659.4 831.2,658.6 831.6,658.6 832.0,660.4 832.3,659.3 832.6,659.7 833.0,660.3 833.4,660.6 833.7,660.7 834.0,660.8 834.4,662.2 834.8,662.8 835.1,659.1 836.1,664.1 837.2,661.5 838.2,663.0 839.3,660.7 840.4,662.1 841.4,662.0 842.5,661.9 843.5,662.9 844.5,662.7 845.6,660.7 846.6,661.8 847.7,662.9 848.8,662.9 849.8,661.6 850.9,661.7 851.9,661.9 853.0,660.7 854.0,660.5 855.0,664.2 856.1,661.7 857.1,662.3 858.2,661.2 859.2,663.9 860.3,664.5 861.4,662.0 862.4,662.9 863.5,661.3 864.5,664.6 865.5,663.5 866.6,661.2 867.6,663.9 868.7,662.8 869.8,662.9 870.8,662.8 871.9,661.5 872.9,661.7 874.0,663.2 875.0,662.3 876.0,661.2 877.1,665.0 878.1,662.1 879.2,661.7 880.2,661.5 881.3,663.3 882.4,663.7 883.4,662.7 884.5,663.5 885.5,660.5 886.5,662.0 887.6,661.9 888.6,662.5 889.7,663.1 890.8,659.9 891.8,666.4 892.9,661.4 893.9,662.9 895.0,663.5 896.0,663.6 897.0,662.8 898.1,658.8 899.1,661.1 900.2,663.5 901.2,661.3 902.3,661.2 903.4,659.6 904.4,664.0 905.5,663.1 906.5,661.4 907.5,662.3 908.6,662.4 909.6,661.1 910.7,662.2 911.8,662.8 912.8,663.2 913.9,664.1 914.9,662.5 916.0,661.9 917.0,663.0 918.0,661.7 919.1,661.0 920.1,663.9 921.2,662.0 922.2,662.6 923.3,663.3 924.4,661.2 925.4,663.3 926.5,663.0 927.5,662.4 928.5,663.0 929.6,661.6 930.6,659.8 931.7,662.2 932.8,661.4 933.8,663.5 934.9,662.8 935.9,661.9 937.0,662.5 938.0,664.1 939.0,663.8 940.1,662.9 941.1,663.0 942.2,662.1 943.2,662.3 944.3,663.1 945.4,662.3 946.4,662.7 947.5,661.1 948.5,660.4 949.5,660.4 950.6,661.8 951.6,663.8 952.7,663.5 953.8,661.1 954.8,660.4 955.9,662.9 956.9,662.5 958.0,660.4 959.0,662.8 959.5,661.9 959.9,663.0 960.0,661.9 960.2,662.5 960.5,661.8 960.9,660.5 961.1,661.2 961.2,660.7 961.6,662.1 962.0,660.2 962.1,659.7 962.3,661.7 962.6,662.0 963.0,662.1 963.2,661.7 963.4,659.3 963.7,659.9 964.0,659.8 964.2,660.1 964.4,658.3 964.8,659.8 965.1,659.7 965.3,658.5 965.5,659.2 965.8,659.5 966.1,658.1 966.4,658.4 966.5,658.1 966.9,657.0 967.2,656.2 967.4,655.3 967.5,655.7 967.9,653.8 968.2,652.5 968.5,652.4 968.6,651.2 969.0,650.2 969.3,648.9 969.5,647.7 969.6,647.0 970.0,645.8 970.4,644.3 970.5,643.0 970.7,642.6 971.0,642.4 971.4,641.8 971.5,641.1 971.6,641.4 971.8,641.8 972.1,642.1 972.5,643.5 972.6,644.1 972.8,644.8 973.1,645.8 973.5,647.9 973.7,649.3 973.9,648.9 974.2,651.2 974.5,652.5 974.8,653.1 974.9,653.3 975.2,653.9 975.6,655.0 975.8,656.4 976.0,656.9 976.3,657.9 976.6,658.4 976.9,658.7 977.0,658.1 977.4,658.0 977.7,659.4 977.9,659.9 978.0,659.7 978.4,658.7 978.8,659.8 979.0,659.1 979.1,660.5 979.5,659.7 979.8,660.6 980.0,661.2 980.1,661.1 980.5,662.3 980.9,660.2 981.0,659.2 981.2,662.2 981.5,662.7 981.9,662.8 982.1,661.8 982.2,662.1 982.6,661.7 983.0,660.4 983.1,661.2 983.3,662.2 984.2,661.3 985.2,663.9 986.3,660.5 987.4,661.7 988.4,663.4 989.5,661.7 990.5,661.2 991.5,661.0 992.6,661.7 993.6,664.1 994.7,662.9 995.8,663.1 996.8,662.0 997.9,663.5 998.9,662.7 1000.0,661.6 1001.0,662.1 1002.0,662.9 1003.1,663.9 1004.1,662.6 1005.2,663.2 1006.2,664.9 1007.3,661.8 1008.4,661.4 1009.4,663.8 1010.5,663.2 1011.5,662.6 1012.5,663.0 1013.6,662.4 1014.6,663.3 1015.7,662.4 1016.8,663.6 1017.8,661.5 1018.9,661.9 1019.9,662.9 1021.0,662.3 1022.0,663.6 1023.0,662.8 1024.1,662.2 1025.2,663.0 1026.2,662.3 1027.2,661.2 1028.3,661.6 1029.3,662.0 1030.4,662.3 1031.5,663.0 1032.5,663.8 1033.5,663.4 1034.6,664.8 1035.7,664.2 1036.7,662.7 1037.8,664.6 1038.8,664.1 1039.8,662.4 1040.9,663.2 1042.0,664.0 1043.0,663.2 1044.0,664.0 1045.1,663.3 1046.2,663.6 1047.2,662.6 1048.2,663.3 1049.3,662.5 1050.3,663.6 1051.4,661.2 1052.5,663.3 1053.5,664.2 1054.5,663.5 1055.6,662.9 1056.7,663.5 1057.7,662.1 1058.8,662.1 1059.8,662.6 1060.8,662.8 1061.9,664.0 1063.0,662.0 1064.0,664.0 1065.0,661.4 1066.1,662.2 1067.2,662.9 1068.2,664.2 1069.2,662.4 1070.3,660.8 1071.3,663.4 1072.4,663.0 1073.5,661.9 1074.5,661.9 1075.5,662.3 1076.6,663.1 1077.7,663.7 1078.7,661.5 1079.8,665.3 1080.8,663.0 1081.8,662.6 1082.9,663.7 1084.0,663.1 1085.0,665.4"/>
<polyline fill="none" stroke="#1c7a6e" stroke-width="5.3" stroke-linejoin="round" stroke-linecap="round" points="192.5,838.5 193.6,839.6 194.6,843.8 195.7,841.5 196.7,836.3 197.8,840.0 198.8,838.6 199.8,840.4 200.9,836.4 201.9,840.6 203.0,840.6 204.1,843.7 205.1,840.8 206.2,841.3 207.2,836.7 208.2,845.3 209.3,835.8 210.3,842.7 211.4,839.4 212.4,838.2 213.5,838.7 214.6,838.7 215.6,841.1 216.7,840.0 217.7,843.6 218.8,836.1 219.8,840.2 220.8,838.2 221.9,842.0 222.9,835.5 224.0,839.5 225.1,840.8 226.1,837.0 227.2,842.5 228.2,840.7 229.2,842.6 230.3,842.5 231.3,838.2 232.4,838.6 233.4,839.9 234.5,842.0 235.6,842.3 236.6,838.8 237.7,839.1 238.7,838.6 239.8,839.1 240.8,839.9 241.8,840.1 242.9,845.0 243.9,839.3 245.0,839.8 246.1,841.5 247.1,838.4 248.2,839.7 249.2,840.5 250.2,842.2 251.3,837.6 252.3,843.5 253.4,839.8 254.4,840.9 255.5,842.4 256.6,842.0 257.6,842.9 258.6,841.0 259.7,840.5 260.8,841.3 261.8,838.4 262.9,843.3 263.9,838.9 264.9,837.9 266.0,845.1 267.1,840.3 268.1,838.1 269.1,844.7 270.2,839.9 271.2,843.0 272.3,838.9 273.4,840.1 274.4,837.0 275.4,836.6 276.5,838.6 277.6,840.5 278.6,842.4 279.6,845.9 280.7,838.5 281.8,842.8 282.8,839.4 283.9,840.4 284.9,837.6 285.9,837.6 287.0,839.0 288.1,838.2 289.1,840.6 290.1,839.2 291.2,843.1 292.2,840.9 293.3,840.8 294.4,842.7 294.8,841.4 295.1,840.3 295.4,840.2 295.5,840.1 295.9,842.4 296.2,841.8 296.4,841.0 296.6,841.8 296.9,839.2 297.2,841.1 297.5,837.5 297.6,842.6 297.9,840.2 298.3,840.3 298.6,841.0 298.6,839.9 299.0,839.4 299.4,841.8 299.6,839.8 299.7,838.0 300.1,840.2 300.4,836.5 300.6,841.9 300.8,838.9 301.1,839.0 301.4,842.1 301.7,841.7 301.8,838.5 302.1,838.9 302.5,839.0 302.8,839.3 302.9,836.8 303.2,836.4 303.6,836.8 303.8,835.1 303.9,835.3 304.2,834.1 304.6,831.4 304.9,830.8 304.9,829.1 305.3,829.7 305.6,829.6 305.9,827.2 306.0,828.5 306.4,827.5 306.7,826.5 306.8,826.5 306.9,826.7 307.1,826.2 307.4,827.1 307.8,828.2 308.0,829.5 308.1,830.0 308.4,830.2 308.8,832.7 309.1,832.3 309.1,833.2 309.5,834.8 309.9,835.5 310.1,836.0 310.2,836.7 310.6,836.5 310.9,837.1 311.1,838.0 311.2,839.8 311.6,838.8 311.9,842.2 312.2,839.9 312.3,835.1 312.6,839.3 313.0,843.0 313.2,840.4 313.4,839.7 313.7,839.2 314.1,843.1 314.3,842.7 314.4,842.1 314.8,841.8 315.1,843.8 315.4,842.8 315.4,839.1 315.8,842.8 316.1,841.8 316.4,841.3 316.5,843.0 316.9,841.7 317.2,836.2 317.4,844.7 317.6,843.8 317.9,841.6 318.2,841.2 318.5,842.4 318.6,839.5 319.6,842.7 320.6,841.8 321.6,841.7 322.7,840.7 323.8,841.3 324.8,845.0 325.9,845.6 326.9,844.0 327.9,843.0 329.0,841.4 330.1,844.8 331.1,846.6 332.1,840.0 333.2,845.7 334.2,838.8 335.3,842.5 336.4,844.0 337.4,840.4 338.4,840.1 339.5,843.5 340.6,844.9 341.6,842.1 342.6,845.8 343.7,841.5 344.8,846.6 345.8,843.3 346.9,843.5 347.9,844.2 348.9,843.6 350.0,846.7 351.1,847.4 352.1,844.0 353.1,842.5 354.2,840.4 355.2,841.3 356.3,842.8 357.4,842.5 358.4,842.6 359.4,842.7 360.5,843.7 361.6,839.9 362.6,840.5 363.6,844.9 364.7,844.3 365.8,841.5 366.8,845.1 367.9,841.1 368.9,841.9 369.9,838.7 371.0,844.1 372.1,842.4 373.1,844.5 374.1,843.7 375.2,842.5 376.2,842.6 377.3,844.6 378.4,841.9 379.4,841.9 380.4,842.3 381.5,843.8 382.6,844.0 383.6,845.9 384.6,841.9 385.7,844.6 386.8,840.7 387.8,843.2 388.9,842.2 389.9,845.4 390.9,843.2 392.0,841.0 393.1,843.0 394.1,842.6 395.1,841.2 396.2,841.2 397.2,839.9 398.3,847.2 399.4,842.0 400.4,843.6 401.4,839.4 402.5,839.5 403.6,841.3 404.6,841.3 405.6,843.1 406.7,839.6 407.8,842.5 408.8,844.3 409.9,839.6 410.9,843.1 411.9,839.5 413.0,841.9 414.1,841.9 415.1,844.5 416.1,839.9 417.2,841.4 418.2,843.0 419.3,838.8 420.4,840.9 421.4,839.3 422.4,839.6 423.5,842.0 424.6,842.0 425.6,845.3 426.6,843.0 427.7,842.8 428.8,840.1 429.8,839.8 430.9,840.5 431.9,836.5 432.9,843.0 434.0,839.2 435.1,838.6 436.1,839.4 436.5,841.3 436.9,841.8 437.1,839.4 437.2,840.5 437.6,839.7 437.9,838.3 438.2,839.8 438.2,839.6 438.6,837.4 438.9,840.7 439.2,837.1 439.3,839.4 439.6,837.6 440.0,837.7 440.3,837.6 440.4,839.2 440.7,836.7 441.1,837.6 441.4,839.0 441.4,836.6 441.8,836.9 442.1,837.0 442.4,835.2 442.4,836.1 442.8,834.3 443.1,834.3 443.4,832.7 443.5,831.8 443.9,831.6 444.2,828.4 444.5,825.7 444.6,824.9 444.9,821.1 445.2,816.0 445.6,810.4 445.6,809.6 445.9,800.6 446.3,790.7 446.6,781.0 446.6,779.1 447.0,766.1 447.4,752.8 447.6,741.8 447.7,740.2 448.1,730.5 448.4,725.9 448.5,725.6 448.7,726.5 448.8,727.2 449.1,734.2 449.4,745.6 449.8,756.9 449.8,758.7 450.1,772.1 450.5,784.5 450.8,794.6 450.9,796.0 451.2,805.4 451.6,813.5 451.9,818.4 451.9,819.2 452.2,823.9 452.6,827.2 452.9,831.8 452.9,830.6 453.3,832.6 453.6,835.1 453.9,833.1 454.0,835.7 454.4,836.8 454.7,836.8 455.0,838.7 455.1,836.4 455.4,839.0 455.8,840.4 456.1,837.5 456.1,838.4 456.4,840.2 456.8,840.7 457.1,840.2 457.1,841.4 457.5,841.6 457.9,839.9 458.1,841.6 458.2,840.2 458.6,839.3 458.9,839.0 459.2,843.8 459.2,842.2 459.6,845.3 459.9,840.7 460.2,842.4 460.3,843.4 461.3,843.1 462.4,844.5 463.4,844.3 464.4,843.4 465.5,840.8 466.6,843.3 467.6,848.0 468.6,846.6 469.7,847.9 470.8,844.7 471.8,845.4 472.9,844.3 473.9,846.5 474.9,846.0 476.0,846.8 477.1,849.1 478.1,844.6 479.1,847.4 480.2,843.6 481.2,848.1 482.3,845.4 483.4,846.1 484.4,846.5 485.4,849.2 486.5,846.2 487.6,845.4 488.6,844.2 489.6,846.9 490.7,844.8 491.8,845.5 492.8,846.4 493.9,847.7 494.9,845.2 495.9,847.7 497.0,849.7 498.1,843.8 499.1,849.0 500.1,850.5 501.2,845.5 502.2,847.7 503.3,844.1 504.4,847.3 505.4,846.1 506.4,847.2 507.5,845.0 508.6,845.2 509.6,845.9 510.6,845.4 511.7,845.6 512.8,846.4 513.8,844.8 514.9,846.5 515.9,847.6 517.0,842.6 518.0,847.1 519.0,845.5 520.1,844.8 521.1,844.4 522.2,845.3 523.2,845.5 524.3,847.5 525.4,844.6 526.4,848.7 527.5,845.4 528.5,848.1 529.5,848.8 530.6,844.8 531.6,848.8 532.7,850.8 533.8,846.2 534.8,848.0 535.9,846.8 536.9,847.2 538.0,846.7 539.0,846.2 540.0,848.3 541.1,848.5 542.1,847.0 543.2,849.5 544.2,848.7 545.3,848.0 546.4,845.6 546.5,849.7 546.9,848.8 547.2,843.3 547.4,844.9 547.5,845.9 547.9,848.0 548.2,848.4 548.5,846.0 548.6,846.8 549.0,847.4 549.3,844.4 549.5,847.1 549.6,845.8 550.0,846.4 550.4,846.0 550.5,844.3 550.7,844.5 551.0,845.8 551.4,845.8 551.6,845.2 551.8,846.8 552.1,844.8 552.5,843.4 552.6,844.4 552.8,844.5 553.1,844.1 553.5,845.1 553.7,844.1 553.9,844.4 554.2,843.2 554.5,841.6 554.8,842.0 554.9,840.4 555.2,839.5 555.6,837.0 555.8,836.7 556.0,835.5 556.3,833.7 556.6,831.7 556.9,830.3 557.0,828.5 557.4,825.2 557.7,822.8 557.9,821.3 558.0,820.3 558.4,819.5 558.5,819.4 558.8,819.6 559.0,820.9 559.1,821.1 559.5,823.4 559.8,826.7 560.0,827.8 560.1,828.8 560.5,831.6 560.9,834.7 561.0,836.0 561.2,836.8 561.5,838.1 561.9,839.2 562.1,841.4 562.2,839.9 562.6,841.9 563.0,841.6 563.1,842.9 563.3,843.4 563.6,845.4 564.0,841.1 564.2,846.3 564.4,843.7 564.7,845.5 565.0,846.4 565.2,844.5 565.4,845.4 565.8,846.4 566.1,845.7 566.3,844.9 566.5,846.3 566.8,846.3 567.1,844.1 567.4,848.2 567.5,846.6 567.9,842.8 568.2,845.2 568.4,849.1 568.5,848.9 568.9,847.0 569.2,844.1 569.5,846.3 569.6,848.3 570.0,847.4 570.3,846.3 570.5,845.7 571.5,848.2 572.6,846.7 573.6,847.6 574.7,847.9 575.8,849.9 576.8,847.5 577.9,847.7 578.9,844.3 580.0,849.1 581.0,848.8 582.0,847.3 583.1,843.6 584.1,846.4 585.2,847.5 586.2,850.9 587.3,848.4 588.4,848.7 589.4,848.8 590.5,849.7 591.5,845.5 592.5,846.0 593.6,845.4 594.6,846.9 595.7,846.8 596.8,847.6 597.8,845.7 598.9,847.6 599.9,846.0 601.0,851.0 602.0,846.5 603.0,851.7 604.1,850.1 605.1,845.4 606.2,849.0 607.2,848.4 608.3,844.8 609.4,848.3 610.4,847.2 611.5,847.9 612.5,845.9 613.5,847.2 614.6,847.9 615.6,846.9 616.7,846.2 617.8,847.0 618.8,845.6 619.9,847.7 620.9,843.0 622.0,849.6 623.0,847.2 624.0,847.9 625.1,848.5 626.1,845.1 627.2,850.7 628.2,845.2 629.3,847.7 630.4,847.5 631.4,849.0 632.5,846.9 633.5,844.6 634.5,847.3 635.6,842.9 636.6,846.4 637.7,845.9 638.8,848.9 639.8,846.0 640.9,845.7 641.9,845.1 642.8,844.9 643.0,845.3 643.1,846.8 643.5,844.1 643.9,845.6 644.0,843.8 644.2,845.5 644.5,845.9 644.9,844.0 645.0,844.8 645.2,845.6 645.6,846.3 646.0,846.4 646.1,845.0 646.3,843.8 646.6,842.9 647.0,845.7 647.1,846.3 647.4,844.9 647.7,846.1 648.0,843.5 648.2,843.5 648.4,845.4 648.8,842.3 649.1,843.5 649.2,843.0 649.5,842.5 649.8,843.2 650.1,840.2 650.3,840.1 650.5,838.3 650.9,837.9 651.2,836.7 651.4,836.0 651.5,834.9 651.9,832.8 652.2,829.5 652.4,827.6 652.6,826.5 653.0,822.8 653.3,818.2 653.5,816.5 653.6,814.7 654.0,810.7 654.4,807.7 654.5,806.8 654.7,806.0 654.8,805.8 655.0,806.5 655.4,808.5 655.5,809.8 655.8,812.0 656.1,816.0 656.5,820.6 656.6,821.7 656.8,825.1 657.1,827.5 657.5,830.8 657.6,832.7 657.9,833.2 658.2,835.6 658.5,837.7 658.7,836.3 658.9,838.7 659.2,839.5 659.6,841.0 659.8,841.9 660.0,842.5 660.3,843.9 660.6,844.4 660.8,844.2 661.0,843.3 661.4,844.8 661.7,842.9 661.9,844.0 662.0,845.9 662.4,845.4 662.8,843.0 662.9,844.0 663.1,845.9 663.5,845.7 663.8,846.5 664.0,842.9 664.1,843.6 664.5,845.0 664.9,844.1 665.0,845.4 665.2,845.5 665.5,846.1 665.9,845.5 666.0,846.5 666.2,846.8 666.6,846.0 667.1,844.2 668.1,847.8 669.2,846.4 670.2,846.8 671.3,846.5 672.4,843.9 673.4,847.2 674.5,845.4 675.5,844.6 676.5,848.4 677.6,846.0 678.6,846.9 679.7,847.8 680.8,849.0 681.8,843.7 682.9,845.3 683.9,847.5 685.0,845.4 686.0,841.4 687.0,846.7 688.1,846.8 689.1,847.7 690.2,846.8 691.2,845.8 692.3,846.8 693.4,846.4 694.4,845.7 695.5,846.8 696.5,847.0 697.5,844.9 698.6,848.0 699.6,847.7 700.7,847.6 701.8,842.2 702.8,846.6 703.9,846.2 704.9,844.9 706.0,847.3 707.0,844.1 708.0,848.3 709.1,847.0 710.1,845.6 711.2,848.5 712.2,847.1 713.3,846.9 714.4,844.4 715.4,847.1 716.5,848.3 717.5,847.8 718.5,844.2 719.6,848.0 720.6,848.2 721.7,846.9 722.8,845.1 723.8,843.5 724.9,844.1 725.9,844.3 727.0,845.0 728.0,845.1 729.0,843.3 730.1,842.1 731.1,843.1 732.2,842.0 733.2,844.3 734.3,841.6 735.4,843.1 736.4,843.3 737.5,841.5 738.5,843.3 739.5,842.4 740.6,841.9 741.6,841.9 742.7,843.1 743.8,844.3 744.8,841.6 745.9,844.4 746.9,843.9 748.0,843.5 749.0,844.5 750.0,844.9 751.1,845.1 752.1,846.4 753.2,844.4 754.2,848.3 755.3,847.0 756.4,845.1 757.4,843.3 758.5,846.1 759.5,845.6 760.5,847.3 761.6,847.3 762.6,849.1 763.7,846.2 764.8,847.5 765.8,845.8 766.9,845.9 767.9,848.7 769.0,846.3 770.0,846.3 771.0,846.0 772.1,847.0 773.1,847.4 774.2,846.4 775.2,844.9 776.3,847.1 777.4,845.4 778.4,846.1 779.5,846.9 780.5,847.0 781.5,843.3 782.6,849.0 783.6,847.7 784.7,849.3 785.8,850.1 786.8,845.2 787.9,845.7 788.9,846.8 790.0,847.6 791.0,845.6 792.0,845.8 793.1,847.4 794.1,844.8 795.2,846.0 796.2,846.8 797.3,845.0 798.4,845.9 799.4,844.6 800.5,842.9 801.5,843.6 802.5,843.6 803.6,843.2 804.6,843.1 805.7,843.1 806.8,842.7 807.8,842.3 808.9,841.6 809.9,841.6 810.5,841.4 810.9,841.1 811.0,842.6 811.2,840.1 811.5,841.6 811.9,840.3 812.0,841.0 812.2,842.0 812.6,841.2 813.0,842.3 813.0,840.6 813.3,841.1 813.6,840.8 814.0,841.2 814.1,841.0 814.4,840.9 814.7,841.2 815.0,841.9 815.1,841.2 815.4,841.1 815.8,840.8 816.1,840.4 816.2,839.8 816.5,840.0 816.8,840.6 817.1,839.1 817.2,840.7 817.5,839.8 817.9,839.0 818.2,838.7 818.3,839.3 818.5,838.6 818.9,837.6 819.2,837.1 819.4,837.0 819.6,834.3 820.0,833.6 820.3,831.0 820.4,830.2 820.6,828.9 821.0,827.2 821.4,824.6 821.5,823.9 821.7,823.1 822.0,821.4 822.4,820.6 822.5,821.1 822.8,821.1 823.1,822.0 823.5,823.8 823.5,824.6 823.8,826.5 824.1,829.3 824.5,831.7 824.6,832.1 824.9,833.2 825.2,836.2 825.5,837.6 825.6,837.4 825.9,838.3 826.2,840.5 826.6,841.6 826.7,842.2 827.0,841.3 827.3,844.4 827.6,841.9 827.8,843.5 828.0,845.0 828.4,845.2 828.7,843.6 828.8,845.2 829.0,846.0 829.4,845.7 829.8,844.2 829.9,846.9 830.1,843.7 830.5,845.6 830.8,844.5 830.9,845.2 831.1,845.4 831.5,846.4 831.9,844.6 832.0,846.3 832.2,847.5 832.5,846.3 832.9,846.9 833.0,846.8 833.2,845.5 833.6,846.0 834.0,846.5 834.0,847.1 834.3,849.0 835.1,848.6 836.1,846.2 837.2,846.4 838.2,845.7 839.3,844.1 840.4,848.8 841.4,847.9 842.5,844.7 843.5,847.3 844.5,850.4 845.6,848.0 846.6,848.1 847.7,847.7 848.8,846.5 849.8,846.0 850.9,846.4 851.9,847.8 853.0,847.3 854.0,848.5 855.0,850.0 856.1,848.5 857.1,848.8 858.2,847.2 859.2,846.0 860.3,850.6 861.4,848.7 862.4,849.4 863.5,847.3 864.5,845.6 865.5,849.6 866.6,845.0 867.6,847.7 868.7,847.2 869.8,848.2 870.8,849.0 871.9,849.0 872.9,845.2 874.0,849.3 875.0,845.5 876.0,848.9 877.1,847.5 878.1,846.6 879.2,847.4 880.2,846.4 881.3,848.1 882.4,849.4 883.4,849.2 884.5,848.2 885.5,849.6 886.5,848.9 887.6,851.0 888.6,848.9 889.7,847.5 890.8,847.9 891.8,847.3 892.9,847.9 893.9,848.1 895.0,849.2 896.0,849.4 897.0,848.4 898.1,848.9 899.1,847.5 900.2,847.7 901.2,845.3 902.3,847.4 903.4,847.8 904.4,851.7 905.5,846.7 906.5,848.5 907.5,848.0 908.6,846.4 909.6,848.7 910.7,848.4 911.8,846.6 912.8,845.5 913.9,848.3 914.9,846.6 916.0,849.3 917.0,848.1 918.0,849.1 919.1,848.0 920.1,850.3 921.2,849.3 922.2,850.3 923.3,848.6 924.4,847.2 925.4,846.7 926.5,847.8 927.5,848.8 928.5,847.6 929.6,851.5 930.6,848.3 931.7,849.0 932.8,848.5 933.8,846.9 934.9,849.7 935.9,849.2 937.0,849.5 938.0,847.3 939.0,848.4 940.1,848.4 941.1,849.8 942.2,846.7 943.2,849.2 944.3,849.9 945.4,847.9 946.4,847.4 947.5,850.0 948.5,848.7 949.5,849.7 950.6,849.2 951.6,849.6 952.7,848.1 953.8,845.8 954.8,848.9 955.9,847.3 956.9,848.7 958.0,847.3 959.0,849.4 960.0,847.1 961.1,847.9 962.1,847.7 963.2,846.1 964.2,845.9 965.3,845.1 966.4,843.8 967.4,844.9 968.5,842.7 969.5,841.9 970.5,842.3 971.6,842.6 972.6,842.7 973.7,842.7 974.8,843.1 975.8,842.5 976.9,845.0 977.9,846.5 979.0,845.2 980.0,844.7 981.0,847.4 982.1,847.0 983.1,843.5 984.2,846.9 985.2,846.3 986.3,846.7 987.4,850.3 988.4,849.3 989.5,848.1 990.5,848.3 991.5,850.1 992.6,847.1 993.6,849.2 994.7,847.7 995.8,849.4 996.8,848.7 997.9,847.6 998.9,849.7 1000.0,849.1 1001.0,850.6 1002.0,848.0 1003.1,848.6 1004.1,847.7 1005.2,849.9 1006.2,847.6 1007.3,848.5 1008.4,850.0 1009.4,849.1 1010.5,848.8 1011.5,848.8 1012.5,848.9 1013.6,849.2 1014.6,848.2 1015.7,846.3 1016.8,850.0 1017.8,847.3 1018.9,850.6 1019.9,848.8 1021.0,852.1 1022.0,849.8 1023.0,849.0 1024.1,849.5 1025.2,847.0 1026.2,848.7 1027.2,848.1 1028.3,848.5 1029.3,846.2 1030.4,846.1 1031.5,849.3 1032.5,848.6 1033.5,848.0 1034.6,848.4 1035.7,847.8 1036.7,848.0 1037.8,849.2 1038.8,848.2 1039.8,849.3 1040.9,847.7 1042.0,846.5 1043.0,847.8 1044.0,848.3 1045.1,847.3 1046.2,848.1 1047.2,847.9 1048.2,849.5 1049.3,849.4 1050.3,849.7 1051.4,847.6 1052.5,848.8 1053.5,849.9 1054.5,848.7 1055.6,848.4 1056.7,847.6 1057.7,849.4 1058.8,848.7 1059.8,849.5 1060.8,848.3 1061.9,850.7 1063.0,848.4 1064.0,847.2 1065.0,848.7 1066.1,849.0 1067.2,849.8 1068.2,848.0 1069.2,847.9 1070.3,848.2 1071.3,848.1 1072.4,846.2 1073.5,849.2 1074.5,849.8 1075.5,847.7 1076.6,847.4 1077.7,848.3 1078.7,847.6 1079.8,849.3 1080.8,847.8 1081.8,849.1 1082.9,847.2 1084.0,847.0 1085.0,846.9"/>
<polyline fill="none" stroke="#1ede1e" stroke-width="6.3" stroke-linejoin="round" stroke-linecap="round" points="1178.5,248.3 1179.8,250.3 1181.1,250.5 1182.4,248.7 1183.7,249.3 1185.0,249.3 1186.3,251.0 1187.6,250.6 1188.9,251.9 1190.2,249.0 1191.5,253.6 1192.8,251.9 1194.1,253.2 1194.7,252.5 1195.4,251.6 1196.7,251.9 1198.0,251.7 1199.3,249.6 1200.6,249.0 1201.9,249.3 1203.2,246.6 1204.5,245.0 1205.8,246.7 1207.0,245.5 1207.1,243.1 1208.4,244.3 1209.7,244.6 1211.0,243.5 1212.3,243.0 1213.6,244.8 1214.9,245.7 1216.2,244.1 1217.5,243.4 1218.8,244.6 1220.0,244.0 1220.1,243.6 1221.4,244.2 1222.7,244.3 1224.0,242.2 1225.3,241.0 1226.6,242.0 1227.9,241.3 1228.0,241.0 1229.2,241.7 1230.5,245.0 1231.8,247.2 1233.1,248.6 1234.0,252.5 1234.4,253.1 1235.7,251.3 1237.0,253.8 1238.3,252.9 1239.6,252.5 1240.9,252.1 1242.2,252.6 1243.5,249.5 1244.8,251.8 1245.0,251.0 1246.1,248.0 1247.4,249.7 1248.7,248.0 1250.0,248.4 1251.3,246.0 1252.6,245.5 1253.9,245.1 1255.2,242.6 1256.5,243.5 1257.8,241.7 1259.0,241.0 1259.1,240.4 1260.4,243.3 1261.7,243.5 1263.0,243.3 1264.3,245.2 1265.6,246.8 1266.0,245.5 1266.9,243.8 1268.2,247.1 1269.5,246.9 1270.8,246.6 1272.1,245.7 1273.4,248.9 1274.7,246.0 1276.0,248.6 1277.3,249.9 1277.5,248.3 1278.6,246.6 1279.9,243.8 1281.2,244.2 1282.5,244.2 1283.8,243.3 1285.1,237.0 1286.4,237.0 1287.0,237.0 1287.7,238.3 1289.0,235.5 1290.3,232.8 1291.6,232.8 1292.9,231.1 1293.0,231.0 1294.2,226.9 1295.5,224.8 1296.0,223.0 1296.8,222.4 1298.1,221.5 1299.4,219.4 1300.7,219.6 1301.0,220.0 1302.0,219.0 1303.3,216.5 1304.6,218.9 1305.9,216.9 1307.2,217.9 1308.5,214.4 1309.8,212.7 1311.1,210.5 1312.4,213.0 1313.7,213.6 1315.0,208.4 1315.5,209.0 1316.3,210.3 1317.6,209.4 1318.9,210.9 1319.7,211.8 1320.2,206.8 1321.5,194.5 1322.8,179.6 1323.0,177.5 1324.1,181.3 1325.4,187.3 1326.7,192.0 1328.0,194.8 1329.3,202.3 1329.5,202.0 1330.6,199.8 1331.9,196.2 1333.2,193.7 1333.7,190.7 1334.5,193.5 1335.8,194.5 1337.1,196.2 1338.4,198.6 1339.7,201.3 1341.0,202.9 1342.3,206.1 1343.5,209.0 1343.6,209.6 1344.9,212.4 1346.2,214.0 1347.5,220.0 1348.8,223.9 1350.1,228.6 1350.6,228.6 1351.4,227.3 1352.7,226.3 1354.0,228.8 1355.3,226.4 1356.0,225.0 1356.6,229.0 1357.9,228.1 1359.0,231.5 1359.2,232.5 1360.5,235.8 1361.8,238.8 1363.0,241.0 1363.1,241.3 1364.4,240.7 1365.7,243.9 1367.0,244.7 1368.3,247.3 1369.6,248.1 1370.9,251.0 1371.6,251.0 1372.2,251.3 1373.5,251.0 1374.8,250.5 1376.1,249.6 1377.4,249.7 1378.7,249.0 1380.0,249.9 1381.3,249.2 1382.6,249.6 1383.9,247.0 1385.2,249.5 1385.7,248.3 1386.5,247.5 1387.8,248.3 1389.1,247.9 1390.4,249.1 1391.7,248.2 1393.0,247.7 1394.3,248.1 1395.6,250.9 1396.9,249.5 1398.2,248.1 1399.5,249.7 1399.7,249.7 1400.8,251.8 1402.1,247.6 1403.4,249.9 1404.7,249.9 1406.0,247.3 1407.3,249.3 1408.6,250.1 1409.9,249.3 1411.2,248.9 1412.5,249.6 1413.8,248.3 1415.1,249.5 1416.4,249.7 1417.7,251.4 1419.0,250.2 1420.3,253.2 1421.6,252.3 1422.9,252.4 1424.2,255.0 1425.0,255.0 1425.5,255.9 1426.8,253.1 1428.1,253.8 1429.4,251.4 1430.7,251.0 1432.0,250.4 1433.3,246.5 1434.6,248.7 1435.9,246.3 1437.2,245.8 1438.5,244.0 1439.0,245.5 1439.8,244.7 1441.1,247.4 1442.4,249.0 1443.7,247.4 1445.0,249.3 1446.3,248.2 1447.6,246.7 1448.9,249.8 1450.2,250.7 1451.5,250.1 1452.8,251.6 1454.1,252.4 1455.4,251.2 1456.0,252.5 1456.7,252.4 1458.0,252.6 1459.3,252.7 1460.6,254.6 1461.9,255.8 1463.2,253.3 1464.0,254.0"/>
<polyline fill="none" stroke="#d41820" stroke-width="6.3" stroke-linejoin="round" stroke-linecap="round" points="1178.5,443.9 1179.8,444.3 1181.1,443.1 1182.4,442.1 1183.7,442.4 1185.0,438.0 1186.3,437.8 1187.6,436.0 1188.9,436.7 1190.2,437.2 1191.5,435.0 1192.8,434.8 1193.0,434.0 1194.1,436.3 1195.4,437.4 1196.7,443.2 1197.5,442.5 1198.0,443.5 1199.3,441.7 1200.6,442.0 1201.9,441.5 1203.2,439.7 1204.5,438.9 1205.8,438.8 1207.1,437.7 1208.4,437.1 1209.7,437.0 1211.0,435.9 1212.3,437.2 1213.6,433.7 1214.0,435.5 1214.9,434.7 1216.2,434.8 1217.5,433.8 1218.8,435.3 1220.1,435.2 1221.4,435.7 1222.7,434.8 1224.0,435.6 1225.3,437.8 1226.6,436.0 1227.9,434.8 1229.2,436.7 1230.5,435.3 1231.8,436.2 1232.6,435.5 1233.1,436.2 1234.4,437.4 1235.5,442.5 1235.7,443.1 1237.0,441.6 1238.3,442.3 1239.6,442.7 1240.9,440.4 1242.2,442.3 1243.5,442.5 1244.8,441.5 1246.1,441.3 1247.4,440.8 1248.7,442.0 1250.0,439.0 1251.3,438.5 1252.0,438.3 1252.6,437.2 1253.9,436.5 1255.2,437.4 1256.5,439.1 1257.8,439.3 1259.1,436.9 1260.4,436.6 1261.7,438.6 1263.0,438.9 1264.3,439.2 1265.6,440.2 1266.9,441.0 1268.2,439.8 1269.5,440.4 1270.5,439.7 1270.8,438.0 1272.1,438.8 1273.4,438.4 1274.7,437.5 1276.0,436.3 1277.3,435.6 1278.6,434.6 1279.9,430.5 1281.2,430.8 1281.7,431.3 1282.5,431.5 1283.8,427.9 1285.1,430.4 1286.4,427.4 1287.7,426.8 1289.0,426.5 1290.3,426.2 1291.6,424.3 1292.9,426.9 1294.2,427.1 1295.5,427.5 1296.8,429.4 1297.0,430.0 1298.1,426.3 1299.4,423.9 1300.7,419.4 1302.0,416.4 1303.3,413.3 1304.0,411.6 1304.6,412.4 1305.9,410.0 1307.2,408.7 1308.5,408.6 1309.8,409.5 1311.1,405.4 1312.4,405.4 1312.6,404.6 1313.7,401.1 1315.0,394.2 1316.3,389.0 1316.8,385.0 1317.6,383.7 1318.9,386.1 1320.2,385.9 1321.5,383.9 1322.8,383.2 1323.9,385.0 1324.1,385.0 1325.4,389.9 1326.7,388.0 1328.0,385.5 1329.3,384.1 1330.6,380.3 1331.9,379.4 1333.2,380.7 1333.7,377.9 1334.5,375.4 1335.8,371.8 1337.1,371.4 1338.4,368.7 1339.7,365.5 1340.0,364.5 1341.0,371.5 1342.3,380.3 1343.5,387.8 1343.6,388.6 1344.9,386.1 1346.2,388.0 1347.5,390.1 1348.8,391.2 1350.1,390.7 1351.4,393.4 1352.0,393.4 1352.7,398.3 1354.0,406.0 1355.3,414.7 1356.0,418.0 1356.6,414.2 1357.9,410.1 1358.0,410.0 1359.2,410.7 1360.5,414.4 1361.8,416.1 1363.0,418.7 1363.1,417.6 1364.4,421.1 1365.7,423.5 1367.0,425.6 1368.3,425.5 1369.6,429.1 1370.9,432.0 1371.6,432.7 1372.2,433.3 1373.5,433.0 1374.8,432.9 1376.1,432.0 1377.4,429.5 1378.7,430.0 1380.0,437.0 1381.3,442.8 1381.5,447.0 1382.6,446.2 1383.9,438.1 1385.0,436.0 1385.2,435.2 1386.5,437.3 1387.8,434.7 1389.1,434.8 1390.4,433.3 1391.7,433.0 1392.7,432.7 1393.0,433.9 1394.3,433.9 1395.6,436.2 1396.9,437.4 1398.2,436.9 1399.5,438.5 1400.8,439.6 1402.1,439.5 1403.4,442.8 1404.7,442.2 1406.0,442.7 1406.7,444.0 1407.3,442.4 1408.6,445.9 1409.9,442.6 1411.2,444.5 1412.5,443.5 1413.8,444.6 1415.1,444.8 1416.4,443.0 1417.7,443.6 1419.0,444.1 1420.3,444.1 1420.8,444.0 1421.6,442.9 1422.9,443.0 1424.2,442.7 1425.5,440.6 1426.8,437.9 1427.8,438.0 1428.1,438.2 1429.4,439.1 1430.7,441.2 1432.0,439.1 1433.3,439.7 1434.6,439.0 1435.9,440.2 1437.2,440.3 1438.5,443.4 1439.8,442.2 1441.1,441.5 1442.0,442.5 1442.4,440.5 1443.7,442.1 1445.0,441.1 1446.3,439.4 1447.6,437.3 1448.9,436.3 1450.2,434.9 1451.5,435.2 1451.7,434.0 1452.8,433.9 1454.1,435.4 1455.4,435.1 1456.7,434.2 1458.0,436.8 1459.3,436.8 1460.6,439.3 1461.9,440.7 1463.2,439.7 1464.0,440.0"/>
<polyline fill="none" stroke="#1010b4" stroke-width="6.3" stroke-linejoin="round" stroke-linecap="round" points="1178.5,636.6 1179.8,631.8 1181.1,635.9 1182.4,633.8 1183.7,634.4 1185.0,632.3 1186.3,633.1 1187.6,629.9 1188.9,628.3 1190.2,628.7 1191.5,627.5 1191.9,626.7 1192.8,627.6 1194.1,630.7 1195.4,632.5 1196.7,632.8 1198.0,634.8 1199.3,634.8 1200.0,638.0 1200.6,637.4 1201.9,638.7 1203.2,637.0 1204.5,638.2 1205.8,637.1 1207.1,634.9 1208.4,635.7 1209.7,632.1 1211.0,634.2 1212.3,630.1 1213.6,631.8 1214.3,631.0 1214.9,632.0 1216.2,632.9 1217.5,633.9 1218.8,636.1 1220.0,638.0 1220.1,638.8 1221.4,632.8 1222.7,627.0 1224.0,624.0 1225.3,622.2 1226.6,623.3 1227.9,623.1 1229.2,624.9 1230.5,624.3 1231.0,624.0 1231.8,627.1 1233.1,630.5 1234.4,636.6 1235.0,638.0 1235.7,637.8 1237.0,638.3 1238.3,637.0 1239.6,638.1 1240.9,637.3 1242.2,637.2 1243.5,636.2 1244.8,637.4 1246.1,634.6 1247.4,634.3 1248.7,633.6 1250.0,634.8 1250.8,633.8 1251.3,631.5 1252.6,629.2 1253.9,625.8 1255.0,621.0 1255.2,618.0 1256.5,622.4 1257.8,624.4 1259.1,626.5 1260.4,629.7 1261.7,634.7 1263.0,634.2 1264.3,635.9 1265.0,638.0 1265.6,637.6 1266.9,636.5 1268.2,634.3 1269.5,634.1 1270.8,633.5 1272.1,629.4 1273.0,631.0 1273.4,631.7 1274.7,629.3 1276.0,625.5 1277.3,622.8 1278.6,621.8 1279.9,618.4 1281.2,617.4 1281.7,617.0 1282.5,616.9 1283.8,617.8 1285.1,615.7 1286.4,616.0 1287.7,616.9 1289.0,613.1 1290.3,613.9 1291.6,613.8 1292.9,613.9 1294.2,615.1 1295.5,613.6 1295.8,612.7 1296.8,608.8 1298.1,603.5 1299.4,598.9 1300.7,598.0 1301.4,593.0 1302.0,594.0 1303.3,594.5 1304.6,598.1 1305.9,599.1 1307.0,600.0 1307.2,599.4 1308.5,597.7 1309.8,591.8 1311.1,588.8 1312.4,585.1 1313.7,584.9 1315.0,579.6 1315.4,579.0 1316.3,574.4 1317.6,572.0 1318.9,562.8 1319.7,559.3 1320.2,561.2 1321.5,564.1 1322.8,566.7 1324.1,570.5 1325.4,574.0 1326.0,576.0 1326.7,572.0 1328.0,556.4 1328.8,547.0 1329.3,547.2 1330.6,547.6 1331.9,550.9 1333.2,550.6 1334.5,552.6 1335.8,551.4 1336.5,553.7 1337.1,556.3 1338.4,553.7 1339.7,555.3 1341.0,554.6 1342.3,556.2 1343.5,555.0 1343.6,555.5 1344.9,560.4 1346.2,567.1 1347.5,572.5 1348.8,577.4 1349.0,579.0 1350.1,585.8 1351.4,591.5 1352.7,599.9 1353.4,604.0 1354.0,605.4 1355.3,605.5 1356.6,609.4 1357.6,607.0 1357.9,604.7 1359.2,608.8 1360.5,612.6 1361.8,618.2 1363.0,621.0 1363.1,618.3 1364.4,623.1 1365.7,620.8 1367.0,623.3 1368.3,624.2 1369.6,624.8 1370.9,625.0 1372.2,625.8 1373.5,624.8 1374.4,626.7 1374.8,628.3 1376.1,629.3 1377.4,632.6 1378.7,631.8 1380.0,632.5 1381.3,634.8 1382.6,634.2 1383.9,633.4 1385.2,633.4 1385.7,636.6 1386.5,636.5 1387.8,635.6 1389.1,632.8 1390.4,632.3 1391.3,631.0 1391.7,632.0 1393.0,632.2 1394.3,635.0 1395.6,639.2 1396.9,638.0 1398.2,638.1 1399.5,640.4 1399.7,643.6 1400.8,643.1 1402.1,640.5 1403.4,637.7 1404.7,635.3 1406.0,635.1 1407.3,633.3 1408.6,631.1 1409.9,629.7 1411.2,627.3 1412.4,626.7 1412.5,623.9 1413.8,628.6 1415.1,628.7 1416.4,632.4 1417.7,632.8 1419.0,635.2 1420.3,637.0 1421.6,638.1 1422.9,640.7 1424.2,639.3 1425.0,642.0 1425.5,641.3 1426.8,640.9 1428.1,641.2 1429.4,639.5 1430.7,639.4 1432.0,633.0 1433.3,633.5 1434.6,634.7 1435.9,630.9 1437.2,631.0 1438.5,632.2 1439.0,629.6 1439.8,628.6 1441.1,630.6 1442.4,631.1 1443.7,630.7 1445.0,630.7 1446.3,631.3 1447.6,629.6 1448.9,631.9 1450.2,630.8 1450.3,632.0 1451.5,633.4 1452.8,632.7 1454.1,635.5 1455.4,636.2 1456.7,636.6 1458.0,638.5 1459.3,638.2 1460.6,639.2 1461.9,640.6 1463.2,641.3 1464.0,642.0"/>
<polyline fill="none" stroke="#1c7a6e" stroke-width="6.3" stroke-linejoin="round" stroke-linecap="round" points="1178.5,829.6 1179.8,828.0 1181.1,826.9 1182.4,824.8 1183.7,827.6 1185.0,829.2 1186.3,827.3 1187.6,827.5 1188.9,827.8 1190.2,825.0 1191.5,829.1 1192.8,824.3 1193.0,825.3 1194.1,830.8 1195.4,829.7 1196.7,832.4 1197.5,833.8 1198.0,833.9 1199.3,830.1 1200.6,831.2 1201.9,833.4 1203.2,830.8 1204.5,829.5 1205.8,829.6 1207.1,828.9 1208.4,827.8 1209.7,827.6 1210.0,826.7 1211.0,828.1 1212.3,827.4 1213.6,830.1 1214.9,830.0 1216.2,829.6 1217.5,831.6 1218.5,832.4 1218.8,833.2 1220.1,829.9 1221.4,829.0 1222.7,824.6 1224.0,824.0 1225.3,824.7 1226.6,827.8 1227.9,828.2 1229.2,826.9 1230.5,829.7 1231.8,829.7 1232.6,831.0 1233.1,831.9 1234.4,828.5 1235.7,826.6 1237.0,821.4 1238.0,821.0 1238.3,821.6 1239.6,823.0 1240.9,821.5 1242.2,823.5 1243.5,823.9 1244.8,822.0 1245.0,824.0 1246.1,825.3 1247.4,824.1 1248.7,824.8 1250.0,828.3 1251.3,828.4 1252.6,828.6 1253.7,829.6 1253.9,829.0 1255.2,828.1 1256.5,827.5 1257.8,827.8 1259.0,826.7 1259.1,826.0 1260.4,825.0 1261.7,823.3 1263.0,820.5 1264.3,820.8 1265.0,819.7 1265.6,818.8 1266.9,821.1 1268.2,819.6 1269.5,822.0 1270.8,822.3 1272.0,821.0 1272.1,818.3 1273.4,817.7 1274.7,813.7 1276.0,812.7 1277.3,811.9 1278.6,813.4 1279.9,811.1 1281.2,810.4 1282.5,807.9 1283.8,809.0 1285.1,807.5 1286.4,809.4 1287.0,808.5 1287.7,808.2 1289.0,807.9 1290.3,807.2 1291.6,808.3 1292.9,807.3 1294.2,805.9 1295.5,806.0 1296.0,805.7 1296.8,807.1 1298.1,805.1 1299.4,806.3 1300.7,803.3 1302.0,803.3 1303.3,801.3 1304.0,802.9 1304.6,800.2 1305.9,797.0 1307.2,796.2 1308.5,791.3 1309.8,788.8 1311.1,788.7 1312.4,786.0 1313.7,786.1 1315.0,783.1 1316.3,783.3 1317.6,782.4 1318.9,779.9 1319.7,779.0 1320.2,779.3 1321.5,781.6 1322.8,784.0 1324.1,787.2 1325.4,787.6 1326.7,790.0 1328.0,783.4 1329.3,777.7 1330.6,768.6 1331.0,767.0 1331.9,773.3 1333.2,783.6 1334.5,791.5 1335.0,795.8 1335.8,792.8 1337.1,794.1 1338.4,793.1 1339.7,792.7 1341.0,791.2 1342.3,790.8 1343.5,788.8 1343.6,789.9 1344.9,790.3 1346.2,795.0 1347.5,800.4 1348.8,803.5 1349.0,802.9 1350.1,806.3 1351.4,808.2 1352.7,810.9 1354.0,815.3 1354.8,817.0 1355.3,818.7 1356.6,815.2 1357.9,816.5 1359.2,816.8 1360.5,814.7 1361.8,817.0 1363.1,819.7 1364.4,817.3 1365.7,819.1 1367.0,818.8 1368.3,820.0 1369.6,819.3 1370.9,821.8 1371.6,821.0 1372.2,823.3 1373.5,823.3 1374.8,827.2 1376.1,823.4 1377.4,826.6 1378.7,828.0 1380.0,830.1 1381.3,833.2 1382.6,833.8 1383.9,835.5 1384.3,838.0 1385.2,837.9 1386.5,838.6 1387.8,837.9 1389.1,836.0 1390.4,834.2 1391.7,834.3 1393.0,832.3 1394.0,833.8 1394.3,835.1 1395.6,833.1 1396.9,833.6 1398.2,832.5 1399.5,834.2 1400.8,834.1 1402.1,831.0 1403.4,831.3 1404.7,830.6 1406.0,832.8 1406.7,831.0 1407.3,831.2 1408.6,835.7 1409.9,834.2 1411.2,833.9 1412.5,834.2 1413.8,838.0 1415.1,837.1 1416.4,834.6 1417.7,834.5 1419.0,834.2 1420.3,831.3 1421.6,831.1 1422.0,829.6 1422.9,829.3 1424.2,826.7 1425.5,826.7 1426.8,825.5 1428.1,826.2 1429.4,821.7 1430.7,819.0 1432.0,819.7 1433.3,823.8 1434.6,826.5 1435.9,831.4 1436.0,831.0 1437.2,831.1 1438.5,826.9 1439.8,825.5 1441.1,824.8 1442.4,822.6 1443.0,822.5 1443.7,823.9 1445.0,824.4 1446.3,827.6 1447.6,827.6 1448.9,829.5 1450.2,830.5 1450.3,829.6 1451.5,829.7 1452.8,830.1 1454.1,829.0 1455.4,830.2 1456.7,832.0 1458.0,831.6 1459.3,830.3 1460.6,834.7 1461.9,830.7 1463.2,833.0 1464.0,832.4"/>
<polyline fill="none" stroke="#1ede1e" stroke-width="6.3" stroke-linejoin="round" stroke-linecap="round" points="1492.5,248.8 1493.8,250.9 1495.1,246.9 1496.4,251.5 1497.7,249.5 1499.0,248.7 1500.3,248.9 1501.6,248.7 1502.9,250.0 1504.2,251.5 1505.5,251.4 1506.8,251.6 1508.1,248.9 1509.4,249.2 1510.7,253.3 1512.0,252.7 1513.3,254.4 1514.6,253.4 1515.9,250.8 1517.2,253.9 1518.5,253.2 1519.6,252.6 1519.8,251.5 1521.1,252.2 1522.4,251.7 1523.7,252.6 1525.0,251.3 1526.3,252.8 1527.6,249.5 1528.9,250.7 1530.2,250.4 1531.5,248.4 1532.8,247.6 1534.1,250.1 1535.4,249.1 1536.7,247.9 1538.0,248.3 1538.6,247.6 1539.3,248.1 1540.6,247.3 1541.9,248.6 1543.2,249.9 1544.5,248.6 1545.8,250.4 1547.1,248.3 1548.4,249.6 1548.7,250.0 1549.7,248.5 1551.0,246.9 1552.3,244.8 1553.6,243.0 1554.9,243.2 1556.0,240.0 1556.2,238.6 1557.5,242.4 1558.8,239.6 1560.1,241.7 1561.4,243.2 1562.7,244.4 1564.0,243.7 1565.3,244.9 1566.6,246.8 1567.9,246.6 1569.2,247.5 1570.0,248.8 1570.5,249.0 1571.8,245.1 1573.1,242.6 1574.4,239.9 1575.0,238.7 1575.7,238.8 1577.0,239.4 1578.3,242.8 1579.6,243.1 1580.9,244.4 1582.2,246.1 1583.5,247.8 1584.0,247.6 1584.8,243.2 1586.1,236.5 1587.4,230.6 1588.7,222.8 1589.0,222.3 1590.0,222.8 1591.3,221.6 1592.6,219.6 1593.9,219.8 1595.2,219.3 1596.5,217.7 1597.8,215.8 1599.1,213.2 1600.4,215.6 1601.7,213.0 1601.8,213.4 1603.0,210.6 1604.3,205.7 1605.6,199.2 1606.9,196.7 1608.0,193.2 1608.2,193.6 1609.5,184.4 1610.8,180.7 1612.1,175.4 1613.0,171.7 1613.4,173.2 1614.7,180.0 1615.7,190.7 1616.0,189.5 1617.3,183.7 1618.6,178.4 1619.5,171.7 1619.9,169.6 1621.2,168.0 1622.5,163.2 1623.8,159.3 1625.1,155.9 1626.4,153.8 1627.0,150.5 1627.7,149.9 1629.0,152.3 1630.3,153.5 1631.6,153.8 1632.9,155.0 1634.2,157.8 1635.5,160.2 1636.0,159.0 1636.8,166.2 1638.1,177.2 1638.4,178.0 1639.4,177.9 1640.7,181.1 1642.0,182.8 1643.3,185.3 1643.5,186.9 1644.6,191.9 1645.9,200.7 1647.2,206.4 1647.3,209.6 1648.5,214.5 1649.8,215.6 1651.1,220.2 1652.4,224.1 1653.7,226.1 1654.9,229.9 1655.0,230.1 1656.3,230.3 1657.6,228.2 1658.9,226.7 1660.2,226.8 1661.5,226.9 1662.4,227.3 1662.8,227.6 1664.1,229.1 1665.4,231.2 1666.7,234.5 1668.0,234.2 1669.3,238.6 1670.6,236.9 1671.9,239.5 1672.6,241.2 1673.2,243.5 1674.5,245.3 1675.8,249.8 1676.3,251.3 1677.1,251.3 1678.4,249.3 1679.7,246.1 1681.0,245.8 1682.3,243.2 1683.6,241.9 1684.9,240.5 1685.2,240.0 1686.2,240.9 1687.5,241.4 1688.8,241.9 1690.1,243.2 1691.4,242.0 1692.7,241.0 1694.0,242.7 1695.3,243.8 1696.6,245.0 1697.9,246.8 1699.2,248.2 1700.5,248.2 1701.8,249.3 1703.1,249.4 1704.4,253.0 1705.4,252.6 1705.7,250.9 1707.0,249.6 1708.3,249.2 1709.6,250.3 1710.9,248.1 1712.2,243.7 1713.5,244.3 1714.8,243.5 1715.5,242.5 1716.1,243.3 1717.4,242.8 1718.7,244.9 1720.0,244.5 1721.3,243.2 1722.6,245.9 1723.9,246.7 1725.2,249.5 1726.5,250.4 1727.8,248.6 1728.0,250.0 1729.1,250.4 1730.4,248.9 1731.7,248.6 1733.0,251.4 1734.3,252.1 1735.6,251.6 1736.9,249.3 1738.2,253.1 1739.5,252.8 1740.8,253.9 1742.1,252.5 1743.4,250.4 1744.7,251.5 1746.0,249.8 1747.3,248.0 1748.6,248.1 1749.9,246.6 1751.2,243.7 1752.0,245.0"/>
<polyline fill="none" stroke="#d41820" stroke-width="6.3" stroke-linejoin="round" stroke-linecap="round" points="1492.5,431.3 1493.8,430.7 1495.1,431.6 1496.4,433.4 1497.7,436.9 1499.0,434.1 1500.3,438.2 1501.6,439.6 1502.9,438.5 1503.0,439.0 1504.2,439.5 1505.5,440.3 1506.8,441.4 1508.1,439.7 1509.4,440.5 1510.7,437.8 1512.0,437.2 1513.3,436.0 1514.6,436.6 1515.9,437.5 1517.2,438.1 1518.5,436.1 1519.6,437.7 1519.8,437.5 1521.1,436.2 1522.4,435.5 1523.7,438.4 1525.0,435.5 1526.3,433.6 1527.6,432.9 1528.9,435.8 1530.2,432.2 1531.0,432.6 1531.5,434.7 1532.8,430.9 1534.1,436.4 1535.4,435.3 1536.7,435.0 1538.0,436.6 1539.3,438.8 1540.6,439.5 1541.9,440.4 1542.4,440.2 1543.2,441.7 1544.5,441.7 1545.8,441.9 1547.1,440.6 1548.4,441.5 1549.7,441.5 1551.0,439.5 1552.3,439.5 1553.6,438.9 1554.9,438.6 1556.0,437.7 1556.2,435.4 1557.5,435.8 1558.8,435.6 1560.1,431.0 1561.4,430.6 1562.7,433.1 1564.0,428.5 1565.3,428.0 1566.6,427.8 1567.6,426.3 1567.9,425.9 1569.2,429.1 1570.5,432.1 1571.8,434.7 1573.1,438.5 1574.0,440.2 1574.4,439.4 1575.7,437.1 1577.0,432.0 1578.3,428.2 1579.6,423.9 1580.9,418.9 1581.5,417.4 1582.2,418.8 1583.5,419.0 1584.8,423.4 1586.1,425.1 1587.4,426.8 1588.7,427.6 1589.0,428.8 1590.0,430.4 1591.3,428.3 1592.6,425.4 1593.9,428.7 1595.2,426.8 1595.4,427.6 1596.5,419.3 1597.8,411.3 1599.0,401.0 1599.1,401.8 1600.4,408.2 1601.7,416.0 1601.8,415.0 1603.0,413.5 1604.3,409.7 1605.6,404.9 1606.9,402.4 1608.0,399.7 1608.2,398.6 1609.5,391.7 1610.8,381.7 1612.1,375.6 1613.4,367.9 1614.4,360.6 1614.7,361.4 1616.0,354.4 1617.3,350.4 1618.6,347.6 1619.9,339.6 1620.7,336.5 1621.2,339.7 1622.5,348.7 1623.3,353.0 1623.8,351.8 1625.1,347.5 1626.4,346.1 1627.7,343.8 1629.0,341.2 1629.6,341.6 1630.3,339.9 1631.6,333.7 1632.9,327.7 1634.2,324.9 1635.3,320.5 1635.5,319.6 1636.8,327.0 1638.1,330.9 1639.4,336.9 1639.7,339.0 1640.7,343.1 1642.0,345.0 1643.3,349.5 1644.6,354.1 1644.7,354.2 1645.9,353.7 1647.2,348.8 1648.5,348.0 1649.8,359.1 1651.1,371.0 1652.3,379.5 1652.4,379.2 1653.7,384.8 1655.0,389.3 1656.0,393.4 1656.3,396.0 1657.6,396.2 1658.9,397.5 1660.2,403.7 1661.5,401.4 1662.8,404.9 1664.1,407.1 1665.0,408.6 1665.4,410.8 1666.7,415.1 1668.0,417.6 1669.3,421.7 1670.0,423.8 1670.6,422.9 1671.9,428.4 1673.2,429.4 1674.5,432.7 1675.0,435.0 1675.8,434.7 1677.1,430.2 1678.4,430.3 1679.7,428.8 1681.0,424.5 1682.3,421.8 1682.7,421.2 1683.6,422.5 1684.9,424.6 1686.2,429.1 1687.5,431.8 1687.7,431.3 1688.8,429.5 1690.1,427.7 1691.4,426.0 1692.7,424.1 1694.0,423.8 1695.3,427.1 1696.6,427.8 1697.9,430.5 1699.2,434.8 1700.5,434.2 1701.8,437.7 1703.0,439.0 1703.1,438.2 1704.4,439.4 1705.7,437.8 1707.0,435.9 1708.3,435.4 1709.6,437.3 1710.9,435.3 1712.2,436.9 1713.5,436.0 1714.8,434.8 1715.5,435.0 1716.1,436.2 1717.4,435.9 1718.7,435.3 1720.0,437.4 1721.3,437.2 1722.6,437.9 1723.9,439.5 1724.4,439.0 1725.2,439.5 1726.5,436.9 1727.8,435.4 1729.1,434.4 1730.4,434.1 1731.7,431.5 1733.0,431.3 1734.3,432.0 1735.6,433.7 1736.9,436.2 1738.2,441.1 1739.5,439.3 1740.8,441.5 1742.1,440.7 1743.4,439.5 1744.7,438.9 1746.0,440.4 1747.3,436.8 1748.6,438.2 1749.9,436.1 1751.2,433.4 1752.0,433.9"/>
<polyline fill="none" stroke="#1010b4" stroke-width="6.3" stroke-linejoin="round" stroke-linecap="round" points="1492.5,631.8 1493.8,631.9 1495.1,631.5 1496.4,628.5 1497.7,631.8 1499.0,628.5 1500.3,632.1 1501.6,631.6 1502.9,631.8 1504.2,631.6 1505.5,630.8 1506.8,629.7 1508.1,629.8 1509.4,631.9 1510.0,630.0 1510.7,630.3 1512.0,630.8 1513.3,632.2 1514.6,633.5 1515.9,635.3 1517.2,635.8 1518.5,636.8 1519.8,637.6 1520.0,638.5 1521.1,635.3 1522.4,635.2 1523.7,635.0 1525.0,630.6 1526.3,629.7 1527.6,631.5 1528.5,626.7 1528.9,624.7 1530.2,626.2 1531.5,629.0 1532.8,629.2 1534.1,625.2 1535.4,627.4 1536.7,626.7 1538.0,626.0 1539.3,624.3 1540.6,628.0 1541.9,625.6 1543.2,627.1 1544.5,626.8 1545.3,626.7 1545.8,628.5 1547.1,626.5 1548.4,628.5 1549.7,630.9 1551.0,628.9 1552.3,630.9 1553.6,632.6 1554.9,631.1 1556.2,632.5 1557.5,632.8 1558.8,636.1 1560.1,635.9 1560.5,636.9 1561.4,635.7 1562.7,634.4 1564.0,631.7 1565.3,630.8 1566.6,627.8 1567.9,624.8 1569.2,625.6 1570.5,623.4 1571.8,623.1 1572.0,620.0 1573.1,620.8 1574.4,621.4 1575.7,620.2 1577.0,625.1 1578.3,629.2 1579.6,629.2 1580.7,631.8 1580.9,631.8 1582.2,625.1 1583.5,620.3 1584.8,615.0 1585.8,611.6 1586.1,613.1 1587.4,614.5 1588.7,620.5 1589.0,621.7 1590.0,620.4 1591.3,614.3 1592.6,614.1 1593.9,609.4 1595.2,607.2 1596.0,603.0 1596.5,603.9 1597.8,603.0 1599.1,600.4 1600.4,601.7 1601.7,601.1 1602.6,601.5 1603.0,597.4 1604.3,586.2 1605.6,577.1 1606.9,567.8 1608.2,556.1 1609.4,547.5 1609.5,549.3 1610.8,554.6 1612.1,562.1 1613.4,568.8 1614.4,574.5 1614.7,573.3 1616.0,563.6 1617.3,556.0 1618.6,545.9 1619.9,537.4 1621.0,532.4 1621.2,534.2 1622.5,528.2 1623.8,526.5 1625.1,520.9 1626.4,517.0 1627.7,511.9 1629.0,508.7 1629.6,507.0 1630.3,510.2 1631.6,511.2 1632.9,514.7 1633.0,515.5 1634.2,507.3 1635.5,500.9 1636.8,490.4 1638.0,484.0 1638.1,487.0 1639.4,500.8 1640.7,514.6 1641.4,522.2 1642.0,523.4 1643.3,526.4 1644.6,530.8 1645.9,533.6 1647.2,535.6 1648.5,536.3 1649.8,540.8 1651.1,548.4 1652.4,555.3 1653.7,560.7 1655.0,570.4 1656.3,580.0 1656.5,577.9 1657.6,582.0 1658.9,588.8 1660.2,591.0 1661.5,595.8 1662.8,601.4 1663.3,603.0 1664.1,601.3 1665.4,601.1 1666.7,598.0 1668.0,602.8 1669.3,606.3 1670.6,609.6 1671.9,614.2 1673.2,617.8 1673.4,618.3 1674.5,617.1 1675.8,616.8 1677.1,614.4 1678.4,613.9 1679.7,614.2 1681.0,611.8 1681.8,613.3 1682.3,611.9 1683.6,613.8 1684.9,615.3 1686.2,617.2 1687.5,614.3 1688.8,617.3 1690.0,618.3 1690.1,620.4 1691.4,625.4 1692.7,626.8 1694.0,632.9 1695.3,638.5 1696.6,634.1 1697.9,627.7 1699.2,622.2 1700.5,616.6 1701.2,613.3 1701.8,615.4 1703.1,620.4 1704.4,623.1 1705.7,629.1 1707.0,631.8 1708.3,630.8 1709.6,632.8 1710.9,631.2 1712.2,631.3 1713.5,629.1 1714.8,626.9 1716.1,627.1 1717.4,629.1 1718.7,624.3 1720.0,624.8 1721.3,623.3 1722.3,625.0 1722.6,625.4 1723.9,630.6 1725.2,632.8 1726.5,639.9 1727.3,640.2 1727.8,639.6 1729.1,639.0 1730.4,638.3 1731.7,640.4 1733.0,642.7 1734.3,640.0 1735.6,638.9 1736.9,640.1 1737.4,640.2 1738.2,638.3 1739.5,635.9 1740.8,637.0 1742.1,637.7 1743.4,636.2 1744.7,634.7 1746.0,632.5 1747.3,631.6 1748.6,631.1 1749.9,628.6 1751.2,627.8 1752.0,626.7"/>
<polyline fill="none" stroke="#1c7a6e" stroke-width="6.3" stroke-linejoin="round" stroke-linecap="round" points="1492.5,819.6 1493.8,820.7 1495.1,819.5 1496.4,821.4 1497.7,821.8 1499.0,822.6 1500.3,824.3 1501.6,822.6 1502.9,826.1 1504.2,824.1 1505.5,826.0 1506.8,828.0 1508.1,828.4 1509.0,828.0 1509.4,830.3 1510.7,828.8 1512.0,827.4 1513.3,829.0 1514.6,828.2 1515.9,830.0 1517.2,828.1 1518.5,830.6 1519.8,828.1 1521.1,832.0 1522.4,831.2 1523.7,832.8 1524.0,831.2 1525.0,827.9 1526.3,827.8 1527.6,828.3 1528.9,830.1 1530.2,827.5 1531.5,827.5 1532.8,823.8 1534.1,823.3 1534.3,823.8 1535.4,825.4 1536.7,823.5 1538.0,824.0 1539.3,826.6 1540.6,823.7 1541.9,824.9 1543.2,823.5 1544.5,825.1 1545.8,826.6 1547.1,827.2 1548.4,824.2 1549.7,823.0 1551.0,827.0 1552.3,828.6 1553.6,825.9 1554.9,827.3 1555.4,827.0 1556.2,823.2 1557.5,820.8 1558.8,822.2 1560.1,821.1 1561.4,816.8 1562.7,816.5 1563.8,815.4 1564.0,814.5 1565.3,815.8 1566.6,820.7 1567.9,821.0 1569.2,822.5 1570.5,823.9 1571.8,826.8 1572.3,827.0 1573.1,826.1 1574.4,823.1 1575.7,822.7 1577.0,820.1 1578.3,819.4 1579.6,814.9 1580.7,815.4 1580.9,813.6 1582.2,816.1 1583.5,812.3 1584.8,812.0 1586.1,808.8 1587.4,808.8 1588.7,806.8 1590.0,807.7 1591.2,807.0 1591.3,809.0 1592.6,808.6 1593.9,813.5 1595.2,814.7 1595.4,815.4 1596.5,809.4 1597.8,804.9 1599.1,799.2 1600.4,792.9 1601.7,789.0 1601.8,788.0 1603.0,788.5 1604.3,789.3 1605.6,790.6 1606.9,789.9 1608.0,792.2 1608.2,789.9 1609.5,783.4 1610.8,776.1 1612.1,770.0 1613.4,764.1 1614.4,758.5 1614.7,755.8 1616.0,763.3 1617.3,766.3 1618.6,770.0 1619.9,771.5 1620.7,773.2 1621.2,772.2 1622.5,761.9 1623.8,753.8 1625.1,745.4 1626.4,737.8 1627.0,733.5 1627.7,734.4 1629.0,740.7 1630.3,740.2 1631.6,747.5 1632.9,750.1 1633.4,752.2 1634.2,754.4 1635.5,756.5 1636.8,758.3 1638.1,760.1 1639.4,759.2 1640.7,764.2 1642.0,764.2 1643.3,769.3 1643.9,769.0 1644.6,770.2 1645.9,771.9 1647.2,775.0 1648.5,777.5 1649.8,780.2 1651.1,780.4 1652.4,786.2 1653.7,785.3 1654.4,788.0 1655.0,786.1 1656.3,793.3 1657.6,797.6 1658.9,801.4 1660.2,804.0 1660.7,804.8 1661.5,805.2 1662.8,807.7 1664.1,810.1 1665.4,812.7 1666.7,813.4 1667.0,815.4 1668.0,816.3 1669.3,816.4 1670.6,816.5 1671.9,816.2 1673.2,818.1 1674.5,818.5 1675.8,820.6 1677.1,819.3 1677.6,819.6 1678.4,817.5 1679.7,820.8 1681.0,816.4 1682.3,817.4 1683.6,816.6 1684.9,815.7 1686.2,815.5 1687.5,814.7 1688.0,815.4 1688.8,816.3 1690.1,818.7 1691.4,820.1 1692.7,822.0 1694.0,821.7 1695.3,821.4 1696.6,826.5 1697.9,825.6 1699.2,823.0 1700.5,828.4 1701.8,828.6 1702.9,830.0 1703.1,829.0 1704.4,829.3 1705.7,827.8 1707.0,828.6 1708.3,827.6 1709.6,827.1 1710.9,827.4 1712.2,826.8 1713.5,827.9 1714.8,826.0 1716.1,823.8 1717.4,824.5 1718.7,826.1 1719.7,823.8 1720.0,822.7 1721.3,824.5 1722.6,823.1 1723.9,823.3 1725.2,821.7 1726.5,821.6 1727.8,823.3 1729.1,824.0 1730.3,823.8 1730.4,822.6 1731.7,823.9 1733.0,824.9 1734.3,825.1 1735.6,822.3 1736.9,825.0 1738.2,826.9 1739.5,828.0 1740.8,828.0 1742.1,828.4 1743.4,822.7 1744.7,827.2 1746.0,824.0 1747.3,824.2 1748.6,822.3 1749.9,821.2 1751.2,821.6 1752.0,821.7"/>
<polyline fill="none" stroke="#1ede1e" stroke-width="6.3" stroke-linejoin="round" stroke-linecap="round" points="1785.5,298.4 1786.8,298.3 1788.1,298.3 1789.4,297.0 1790.7,298.0 1792.0,297.4 1793.3,297.5 1794.6,296.9 1795.9,297.3 1797.2,295.6 1798.5,297.2 1799.8,296.6 1801.1,295.1 1802.4,295.7 1803.7,295.3 1805.0,293.5 1806.3,294.9 1807.6,293.9 1808.9,293.8 1810.2,293.4 1811.5,293.2 1812.8,293.3 1814.1,293.1 1815.4,291.7 1816.7,292.4 1817.0,292.5 1818.0,291.8 1819.3,292.6 1820.6,293.7 1821.9,293.8 1823.2,293.1 1824.5,293.2 1825.8,293.4 1827.1,294.3 1828.4,295.0 1829.7,294.6 1831.0,295.3 1832.3,295.3 1833.6,296.3 1834.9,294.1 1836.2,294.2 1837.5,295.8 1838.8,296.6 1840.1,296.0 1841.4,296.8 1842.4,296.7 1842.7,295.7 1844.0,295.7 1845.3,296.4 1846.6,295.9 1847.9,294.5 1849.2,294.7 1850.5,293.8 1851.8,293.8 1853.1,292.6 1854.4,293.0 1855.7,292.1 1857.0,292.2 1858.3,291.4 1859.6,290.9 1860.9,291.1 1862.2,290.4 1863.5,290.3 1864.3,290.0 1864.8,290.7 1866.1,290.5 1867.4,292.4 1868.7,293.6 1870.0,293.2 1871.3,295.4 1872.6,296.4 1872.7,295.0 1873.9,293.4 1875.2,292.5 1876.5,292.8 1877.8,293.5 1879.1,292.0 1880.4,291.4 1881.7,290.0 1883.0,289.0 1884.3,289.1 1885.6,287.3 1886.9,287.3 1888.2,287.1 1889.5,286.0 1890.8,285.7 1892.1,284.3 1893.4,284.4 1894.6,283.3 1894.7,282.0 1896.0,281.0 1897.3,279.7 1898.6,279.2 1899.9,277.5 1901.2,276.0 1902.5,274.4 1903.8,273.2 1905.1,272.0 1906.4,269.4 1907.7,267.2 1908.0,268.0 1909.0,266.2 1910.3,264.2 1911.6,261.9 1912.9,259.2 1914.2,256.7 1915.5,256.3 1916.8,254.3 1918.1,252.0 1918.2,251.2 1919.4,248.4 1920.7,244.7 1922.0,241.9 1923.3,238.3 1924.6,235.0 1925.0,234.4 1925.9,229.2 1927.2,217.3 1928.3,210.8 1928.5,210.9 1929.8,207.2 1931.1,205.9 1932.4,203.3 1933.7,200.5 1935.0,198.1 1936.3,195.1 1937.6,194.9 1938.4,192.2 1938.9,192.3 1940.2,188.5 1941.5,186.3 1942.8,183.8 1944.1,180.4 1945.2,178.8 1945.4,178.6 1946.7,174.1 1948.0,169.3 1949.3,165.8 1950.6,163.0 1951.9,158.8 1953.2,155.0 1953.6,154.0 1954.5,154.4 1955.8,154.3 1957.1,155.2 1958.4,157.2 1959.7,155.4 1961.0,157.9 1962.0,157.0 1962.3,157.2 1963.6,158.6 1964.9,161.4 1966.2,162.1 1967.5,163.1 1968.8,166.3 1970.1,166.7 1970.5,167.0 1971.4,174.4 1972.7,184.8 1973.8,194.0 1974.0,194.4 1975.3,199.1 1976.6,203.6 1977.9,207.8 1979.2,212.0 1980.5,216.3 1981.8,219.9 1982.3,221.0 1983.1,223.9 1984.4,225.8 1985.7,230.1 1987.0,234.5 1988.3,236.8 1989.6,242.7 1990.9,244.6 1992.2,248.0 1992.4,249.6 1993.5,251.6 1994.8,255.1 1996.1,258.0 1997.4,261.8 1998.7,263.9 1999.0,264.7 2000.0,267.3 2001.3,272.5 2002.6,275.9 2003.9,279.3 2004.2,281.6 2005.2,281.4 2006.5,282.2 2007.8,283.1 2009.1,284.9 2010.4,284.2 2011.7,285.7 2013.0,287.1 2014.3,288.8 2015.6,288.1 2016.9,289.1 2018.2,289.2 2019.5,291.9 2020.8,291.2 2022.1,292.0 2023.4,292.9 2024.4,293.4 2024.7,293.4 2026.0,292.7 2027.3,294.7 2028.6,293.7 2029.9,293.8 2031.2,294.9 2032.5,293.3 2033.8,295.3 2035.1,295.5 2036.4,294.0 2037.7,295.2 2039.0,294.7 2040.3,295.5 2041.2,295.0 2041.6,294.4 2042.9,295.6 2044.2,295.1 2045.5,295.6 2046.8,296.2 2048.1,296.5 2049.4,296.3 2050.7,295.0 2052.0,296.6 2053.3,296.0 2054.6,297.1 2055.9,296.3 2057.2,297.6 2058.5,297.1 2059.8,296.9 2061.1,297.2 2062.4,295.9 2063.7,297.7 2065.0,297.5 2066.3,296.8 2067.6,297.9 2068.9,298.0 2070.2,298.2 2071.5,298.0 2072.8,298.7 2074.1,298.9 2075.0,298.4 2075.4,298.4 2076.7,298.1 2078.0,298.0 2079.3,298.8 2080.6,298.0 2081.9,297.4 2083.2,298.6 2084.5,299.2 2085.8,298.2 2087.1,299.0 2088.4,298.7 2089.7,297.7 2091.0,298.6 2092.3,298.3 2093.6,298.9 2094.9,296.5 2096.2,299.0 2097.5,298.9 2098.8,297.8 2100.0,298.4 2100.1,298.3 2101.4,298.8 2102.7,299.5 2104.0,300.1 2105.3,299.6 2106.6,300.2 2107.9,300.3 2109.2,299.7 2110.5,301.7 2111.8,301.3 2113.1,301.1 2114.4,302.0 2115.7,301.9 2117.0,301.8 2118.3,302.3 2119.6,301.4 2120.9,301.6 2122.2,301.6 2123.5,301.4 2124.8,301.9 2126.1,300.5 2127.4,300.0 2128.0,300.0"/>
<polyline fill="none" stroke="#d41820" stroke-width="6.3" stroke-linejoin="round" stroke-linecap="round" points="1785.5,471.7 1786.8,472.0 1788.1,471.2 1789.4,471.5 1790.7,470.2 1792.0,469.0 1793.3,471.5 1794.6,470.3 1795.9,468.0 1797.2,468.6 1798.5,468.7 1799.8,469.2 1801.1,469.7 1802.4,468.7 1803.7,467.8 1805.0,468.3 1805.6,467.8 1806.3,468.0 1807.6,467.4 1808.9,467.0 1810.2,469.0 1811.5,467.8 1812.8,468.2 1814.1,467.7 1815.4,467.8 1816.7,468.0 1818.0,468.9 1819.3,469.4 1820.6,468.9 1821.9,468.1 1823.2,470.8 1824.5,469.3 1825.8,469.4 1827.1,468.3 1828.4,468.6 1829.0,468.8 1829.7,467.4 1831.0,468.2 1832.3,469.1 1833.6,470.7 1834.9,469.1 1836.2,468.0 1837.5,467.8 1838.8,469.6 1840.1,468.2 1841.4,468.5 1842.7,470.4 1844.0,468.8 1845.3,468.5 1846.6,468.2 1847.9,469.9 1848.8,468.8 1849.2,468.3 1850.5,467.9 1851.8,469.1 1853.1,470.4 1854.4,469.9 1855.7,468.7 1857.0,470.1 1858.3,470.6 1859.6,470.1 1860.9,470.4 1862.2,470.4 1863.5,470.2 1864.8,470.2 1866.1,469.8 1867.4,470.1 1868.7,469.9 1870.0,471.8 1871.3,471.9 1872.4,471.7 1872.6,471.8 1873.9,469.9 1875.2,467.6 1876.5,466.7 1877.8,464.7 1879.1,463.2 1880.4,460.0 1881.7,459.7 1883.0,458.8 1884.2,457.0 1884.3,456.4 1885.6,457.5 1886.9,460.1 1888.2,463.5 1889.5,463.6 1890.0,464.8 1890.8,463.2 1892.1,462.5 1893.4,459.3 1894.7,458.1 1896.0,456.4 1897.3,454.4 1898.6,451.3 1899.9,449.8 1901.2,447.5 1902.0,447.0 1902.5,446.4 1903.8,445.6 1905.1,445.4 1906.4,443.3 1907.7,442.6 1909.0,441.9 1910.3,441.3 1911.6,440.0 1912.9,440.2 1913.7,439.3 1914.2,439.8 1915.5,436.0 1916.8,434.5 1918.1,430.3 1919.4,428.6 1920.7,426.5 1922.0,425.5 1923.3,421.7 1924.6,420.5 1925.5,417.6 1925.9,417.0 1927.2,409.1 1928.5,402.2 1929.8,395.9 1931.1,391.6 1931.4,390.0 1932.4,387.8 1933.7,384.4 1935.0,381.8 1936.3,379.6 1937.6,375.0 1938.9,372.3 1940.2,368.6 1941.2,366.5 1941.5,365.2 1942.8,361.7 1944.1,354.9 1945.4,352.5 1946.7,346.2 1948.0,341.2 1949.0,337.0 1949.3,336.8 1950.6,335.9 1951.9,335.9 1953.2,333.3 1954.5,332.8 1955.8,331.0 1957.0,331.0 1957.1,333.0 1958.4,324.4 1959.7,315.6 1961.0,307.8 1962.3,302.6 1963.6,295.7 1964.8,288.5 1964.9,289.9 1966.2,293.2 1967.5,297.4 1968.8,301.4 1970.1,305.6 1971.4,308.3 1971.7,309.5 1972.7,312.1 1974.0,312.8 1975.3,313.8 1976.6,317.0 1977.9,318.2 1979.2,320.7 1980.5,324.9 1981.8,325.7 1982.5,325.2 1983.1,326.9 1984.4,333.5 1985.7,338.4 1987.0,345.0 1988.3,350.7 1988.4,350.8 1989.6,356.8 1990.9,362.2 1992.2,369.6 1993.5,376.2 1994.8,382.8 1996.1,390.1 1996.3,390.0 1997.4,390.5 1998.7,390.8 2000.0,391.3 2000.2,392.0 2001.3,398.0 2002.6,407.6 2003.9,411.6 2005.2,422.3 2006.5,428.5 2007.8,435.2 2008.0,437.3 2009.1,437.9 2010.4,439.1 2011.7,439.8 2013.0,438.7 2014.3,439.8 2015.6,440.6 2016.9,441.0 2017.9,441.2 2018.2,443.1 2019.5,445.8 2020.8,448.0 2022.1,452.7 2023.4,455.8 2023.8,457.0 2024.7,458.0 2026.0,458.3 2027.3,458.5 2028.6,459.0 2029.9,459.8 2031.2,459.1 2032.5,460.1 2033.8,461.4 2035.1,460.4 2035.6,461.0 2036.4,460.9 2037.7,462.7 2039.0,462.0 2040.3,463.8 2041.6,463.1 2042.9,464.1 2044.2,464.7 2045.5,464.5 2046.8,464.7 2048.1,466.7 2049.4,466.2 2050.7,467.4 2052.0,468.0 2053.3,466.9 2054.6,469.5 2055.3,468.8 2055.9,468.6 2057.2,468.6 2058.5,468.6 2059.8,469.3 2061.1,470.9 2062.4,469.2 2063.7,468.5 2065.0,469.2 2066.3,471.2 2067.6,469.7 2068.9,471.3 2070.2,469.2 2071.5,469.3 2072.8,469.0 2074.1,469.3 2075.4,470.1 2076.7,470.3 2078.0,468.9 2079.3,469.5 2080.6,469.8 2081.9,470.2 2083.2,471.7 2084.5,471.9 2084.8,470.7 2085.8,471.4 2087.1,470.4 2088.4,471.5 2089.7,470.0 2091.0,471.5 2092.3,472.0 2093.6,472.6 2094.9,472.1 2096.2,472.3 2097.5,471.7 2098.8,470.9 2100.1,472.4 2101.4,471.6 2102.7,473.0 2104.0,473.3 2104.4,473.7 2105.3,472.2 2106.6,473.7 2107.9,473.5 2109.2,474.5 2110.5,475.0 2111.8,475.8 2113.1,475.4 2114.4,474.1 2115.7,474.9 2117.0,476.8 2118.3,474.6 2119.6,475.2 2120.9,476.7 2122.2,476.3 2123.5,475.4 2124.8,476.4 2126.1,475.8 2127.4,477.1 2128.0,476.6"/>
<polyline fill="none" stroke="#1010b4" stroke-width="6.3" stroke-linejoin="round" stroke-linecap="round" points="1785.5,651.2 1786.8,650.8 1788.1,651.4 1789.4,650.9 1790.7,649.9 1792.0,651.3 1793.3,650.5 1794.6,650.9 1795.9,651.5 1797.2,650.4 1798.5,649.5 1799.8,649.7 1801.1,650.6 1802.4,649.0 1803.7,649.9 1805.0,649.9 1806.3,648.9 1807.6,649.6 1808.9,649.7 1810.2,648.8 1811.5,648.9 1812.8,649.4 1813.7,649.0 1814.1,648.4 1815.4,649.4 1816.7,648.7 1818.0,647.7 1819.3,648.4 1820.6,649.5 1821.9,647.3 1823.2,648.5 1824.5,648.4 1825.8,647.7 1827.1,648.0 1828.4,647.1 1829.7,648.3 1831.0,648.3 1832.3,646.6 1833.6,646.9 1834.9,646.9 1836.2,646.4 1837.5,646.8 1838.8,645.8 1840.1,646.7 1841.4,646.0 1842.7,646.0 1844.0,646.2 1845.3,646.4 1846.6,645.1 1847.4,645.6 1847.9,646.0 1849.2,645.1 1850.5,645.8 1851.8,644.1 1853.1,643.9 1854.4,644.2 1855.7,643.3 1857.0,644.2 1858.3,643.2 1859.6,643.8 1860.9,641.8 1862.2,641.6 1863.5,642.7 1864.8,640.9 1866.1,641.9 1867.4,640.5 1868.7,640.8 1870.0,641.1 1871.3,640.0 1872.6,639.1 1873.9,639.2 1875.2,639.8 1876.5,639.0 1877.8,639.0 1879.1,638.3 1880.4,638.1 1881.0,637.8 1881.7,637.1 1883.0,637.8 1884.3,637.4 1885.6,635.8 1886.9,636.8 1888.2,637.2 1889.5,637.5 1890.8,635.3 1892.1,636.0 1893.4,636.0 1894.6,635.5 1894.7,634.8 1896.0,631.5 1897.3,627.0 1898.6,623.2 1899.0,622.0 1899.9,622.8 1901.2,623.2 1902.5,624.5 1903.8,625.1 1905.1,626.6 1905.8,626.5 1906.4,625.2 1907.7,622.0 1909.0,619.4 1910.3,616.4 1911.6,613.0 1912.9,611.2 1914.2,608.0 1915.5,606.1 1916.8,602.6 1918.1,600.5 1919.3,597.3 1919.4,596.8 1920.7,593.6 1922.0,590.2 1923.3,587.0 1924.6,584.5 1925.9,580.5 1927.2,577.3 1928.3,574.8 1928.5,574.4 1929.8,565.6 1931.1,558.0 1932.4,549.8 1932.8,547.9 1933.7,546.0 1935.0,544.1 1936.3,541.3 1937.6,539.5 1938.9,538.6 1940.2,536.9 1941.5,533.5 1941.8,534.0 1942.8,526.9 1944.1,519.3 1945.4,507.6 1946.7,498.5 1948.0,488.9 1948.5,486.0 1949.3,485.4 1950.6,482.6 1951.9,481.6 1953.2,479.9 1954.5,476.4 1955.8,475.0 1957.1,472.5 1957.5,472.0 1958.4,469.5 1959.7,466.5 1961.0,462.7 1962.0,461.0 1962.3,461.0 1963.6,458.0 1964.9,456.3 1966.2,454.1 1967.0,453.5 1967.5,453.5 1968.8,454.4 1970.1,453.9 1971.4,453.5 1972.0,454.5 1972.7,455.8 1974.0,459.3 1975.3,461.8 1976.6,462.5 1977.9,465.6 1978.0,467.0 1979.2,471.7 1980.5,476.4 1981.8,483.0 1983.1,489.6 1984.4,494.8 1985.0,497.0 1985.7,500.3 1987.0,506.6 1988.3,511.8 1989.6,518.8 1990.9,523.2 1991.2,525.0 1992.2,534.0 1993.5,543.9 1994.8,554.2 1995.7,561.3 1996.1,562.5 1997.4,569.5 1998.7,575.6 2000.0,581.1 2001.3,586.7 2002.6,592.4 2003.9,597.6 2004.7,601.8 2005.2,602.3 2006.5,606.9 2007.8,609.5 2009.1,613.9 2010.4,616.5 2011.5,619.8 2011.7,621.0 2013.0,622.8 2014.3,624.4 2015.6,625.4 2016.9,627.2 2018.2,628.7 2019.5,631.2 2020.8,633.8 2022.1,634.0 2022.7,635.5 2023.4,635.6 2024.7,635.9 2026.0,637.6 2027.3,638.8 2028.6,638.7 2029.9,639.0 2031.2,641.4 2032.5,640.5 2033.8,642.5 2035.1,642.7 2036.4,643.1 2037.7,644.1 2038.4,644.5 2039.0,644.2 2040.3,645.8 2041.6,645.8 2042.9,646.7 2044.2,648.8 2045.5,649.8 2046.8,650.1 2048.1,650.8 2049.4,650.9 2049.7,651.2 2050.7,649.8 2052.0,647.2 2053.3,647.7 2054.6,646.4 2055.9,645.6 2057.2,643.0 2058.5,643.1 2058.7,642.2 2059.8,642.2 2061.1,643.7 2062.4,645.3 2063.7,645.6 2065.0,646.7 2066.3,646.8 2067.6,648.5 2068.9,649.7 2070.2,649.4 2071.5,651.1 2072.0,651.2 2072.8,651.5 2074.1,650.7 2075.4,652.1 2076.7,652.1 2078.0,651.7 2079.3,652.9 2080.6,652.3 2081.9,653.2 2083.2,652.9 2084.5,654.0 2085.8,653.6 2087.1,655.1 2088.4,654.7 2089.7,655.0 2091.0,654.2 2092.3,654.0 2093.6,655.0 2094.6,655.7 2094.9,655.1 2096.2,656.1 2097.5,655.9 2098.8,654.5 2100.1,654.5 2101.4,655.1 2102.7,654.0 2104.0,653.6 2105.3,653.3 2105.8,653.5 2106.6,653.5 2107.9,654.4 2109.2,654.0 2110.5,654.7 2111.8,654.0 2113.1,655.7 2114.4,654.3 2115.7,654.4 2117.0,654.1 2118.3,653.7 2119.6,654.3 2120.9,655.1 2122.2,654.5 2123.5,655.8 2124.8,654.4 2126.1,654.5 2127.4,655.8 2128.0,655.7"/>
<polyline fill="none" stroke="#1c7a6e" stroke-width="6.3" stroke-linejoin="round" stroke-linecap="round" points="1785.5,828.9 1786.8,828.2 1788.1,831.5 1789.4,830.1 1790.7,830.4 1792.0,830.0 1793.3,830.5 1794.6,831.0 1795.9,831.1 1797.2,830.7 1798.5,832.0 1799.8,832.1 1801.1,831.9 1802.4,831.7 1803.7,831.8 1805.0,832.0 1805.6,832.9 1806.3,832.3 1807.6,832.6 1808.9,830.5 1810.2,831.2 1811.5,829.9 1812.8,828.8 1814.1,829.4 1815.4,828.1 1816.7,827.9 1818.0,827.5 1819.3,826.4 1820.6,824.9 1821.9,824.8 1823.2,824.8 1824.5,822.9 1825.2,823.0 1825.8,823.2 1827.1,823.8 1828.4,824.6 1829.7,825.0 1831.0,826.5 1832.3,827.9 1833.6,826.8 1834.9,828.9 1836.2,830.3 1837.5,830.6 1838.8,832.4 1839.0,831.9 1840.1,831.6 1841.4,830.7 1842.7,829.4 1844.0,827.5 1845.3,828.5 1846.6,825.9 1847.9,825.6 1849.2,823.4 1850.5,822.6 1851.8,822.5 1853.1,820.1 1854.4,820.6 1855.7,820.7 1857.0,817.2 1858.3,817.1 1858.6,817.1 1859.6,816.9 1860.9,818.0 1862.2,817.7 1863.5,816.4 1864.8,815.8 1866.1,817.9 1867.4,819.0 1868.7,817.7 1870.0,819.6 1871.3,817.5 1872.6,819.5 1873.9,819.0 1875.2,819.2 1876.5,819.2 1877.8,819.1 1879.1,819.7 1880.3,820.0 1880.4,820.6 1881.7,817.5 1883.0,817.5 1884.3,814.7 1885.6,813.1 1886.9,813.2 1888.2,811.5 1889.5,809.9 1890.0,809.3 1890.8,807.9 1892.1,808.0 1893.4,806.2 1894.7,806.0 1896.0,802.5 1897.3,801.8 1898.6,800.4 1899.9,798.9 1901.2,797.1 1902.0,797.5 1902.5,797.1 1903.8,796.1 1905.1,796.1 1906.4,794.4 1907.7,796.5 1909.0,795.2 1910.3,794.5 1911.6,794.4 1912.9,793.1 1914.2,792.3 1915.5,791.9 1916.8,791.3 1917.6,791.6 1918.1,791.6 1919.4,788.2 1920.7,787.5 1922.0,784.6 1923.3,783.6 1924.6,779.5 1925.9,777.2 1927.2,775.1 1928.5,771.7 1929.4,771.9 1929.8,771.5 1931.1,768.6 1932.4,766.0 1933.7,764.1 1935.0,760.1 1936.3,758.5 1937.3,756.2 1937.6,755.6 1938.9,750.9 1940.2,744.9 1941.5,738.6 1942.8,734.4 1944.1,728.5 1945.4,723.5 1946.7,717.4 1947.0,717.0 1948.0,718.3 1949.3,719.9 1950.6,722.3 1951.9,725.1 1953.2,725.4 1954.5,726.5 1955.8,728.7 1957.0,730.6 1957.1,730.3 1958.4,726.8 1959.7,721.8 1961.0,718.2 1962.3,712.8 1963.6,709.8 1964.9,704.7 1965.8,701.5 1966.2,703.3 1967.5,702.7 1968.8,707.8 1970.1,710.9 1971.4,711.0 1972.7,713.0 1974.0,715.6 1974.7,716.9 1975.3,718.2 1976.6,720.1 1977.9,723.2 1979.2,725.5 1980.5,729.1 1981.8,731.8 1983.1,734.1 1984.4,738.5 1984.5,738.5 1985.7,743.4 1987.0,746.1 1988.3,753.4 1989.6,758.7 1990.9,762.0 1992.2,766.0 1992.4,768.0 1993.5,770.4 1994.8,771.7 1996.1,774.1 1997.4,775.8 1998.7,776.6 2000.0,779.6 2001.3,782.1 2002.2,783.7 2002.6,784.8 2003.9,787.4 2005.2,792.1 2006.5,793.2 2007.8,798.6 2009.1,801.6 2010.4,805.7 2011.7,809.5 2012.0,809.3 2013.0,809.4 2014.3,808.7 2015.6,810.1 2016.9,809.3 2018.2,809.6 2019.5,809.2 2020.8,809.4 2021.8,809.3 2022.1,811.6 2023.4,810.9 2024.7,811.6 2026.0,812.7 2027.3,814.5 2028.6,815.0 2029.9,817.2 2031.2,817.8 2032.5,819.1 2033.8,821.0 2035.1,821.5 2036.4,822.7 2037.7,824.0 2039.0,825.9 2040.3,825.9 2041.5,827.0 2041.6,827.6 2042.9,826.9 2044.2,825.1 2045.5,825.8 2046.8,824.1 2048.1,824.3 2049.4,824.1 2050.7,823.5 2052.0,822.4 2053.3,823.0 2054.6,823.8 2055.9,826.1 2057.2,826.1 2058.5,825.6 2059.8,829.2 2061.1,829.9 2062.4,831.5 2063.7,830.9 2065.0,830.5 2066.3,833.3 2067.0,833.8 2067.6,833.0 2068.9,832.6 2070.2,832.3 2071.5,833.9 2072.8,832.0 2074.1,830.9 2075.4,833.9 2076.7,831.7 2078.0,831.2 2079.3,832.6 2080.6,831.9 2081.9,830.2 2083.2,832.1 2084.5,831.8 2085.8,831.3 2086.7,830.9 2087.1,831.1 2088.4,830.7 2089.7,833.4 2091.0,834.7 2092.3,836.0 2093.6,835.6 2094.9,838.5 2096.2,838.3 2096.6,838.8 2097.5,837.8 2098.8,838.2 2100.1,837.8 2101.4,836.8 2102.7,835.8 2104.0,836.9 2105.3,835.6 2106.6,835.5 2107.9,834.8 2109.2,833.9 2110.5,832.8 2111.8,832.3 2113.1,832.0 2114.2,831.9 2114.4,831.4 2115.7,832.9 2117.0,832.5 2118.3,831.6 2119.6,833.3 2120.9,832.9 2122.2,834.4 2123.5,833.6 2124.8,833.4 2126.1,834.5 2127.4,834.4 2128.0,834.8"/>
</g>
<g id="labels">
<text transform="translate(120.0 940.5) scale(0.900 1)" font-family='"Liberation Sans", sans-serif' font-size="34.5" fill="#222" text-anchor="middle" stroke="#222" stroke-width="0.50">10</text>
<text transform="translate(264.2 940.5) scale(0.900 1)" font-family='"Liberation Sans", sans-serif' font-size="34.5" fill="#222" text-anchor="middle" stroke="#222" stroke-width="0.50">20</text>
<text transform="translate(410.7 940.5) scale(0.900 1)" font-family='"Liberation Sans", sans-serif' font-size="34.5" fill="#222" text-anchor="middle" stroke="#222" stroke-width="0.50">30</text>
<text transform="translate(556.6 940.5) scale(0.900 1)" font-family='"Liberation Sans", sans-serif' font-size="34.5" fill="#222" text-anchor="middle" stroke="#222" stroke-width="0.50">40</text>
<text transform="translate(703.4 940.5) scale(0.900 1)" font-family='"Liberation Sans", sans-serif' font-size="34.5" fill="#222" text-anchor="middle" stroke="#222" stroke-width="0.50">50</text>
<text transform="translate(850.0 940.5) scale(0.900 1)" font-family='"Liberation Sans", sans-serif' font-size="34.5" fill="#222" text-anchor="middle" stroke="#222" stroke-width="0.50">60</text>
<text transform="translate(996.4 940.5) scale(0.900 1)" font-family='"Liberation Sans", sans-serif' font-size="34.5" fill="#222" text-anchor="middle" stroke="#222" stroke-width="0.50">70</text>
<text transform="translate(1141.6 940.5) scale(0.900 1)" font-family='"Liberation Sans", sans-serif' font-size="34.5" fill="#222" text-anchor="middle" stroke="#222" stroke-width="0.50">80</text>
<text transform="translate(1200.7 940.5) scale(0.900 1)" font-family='"Liberation Sans", sans-serif' font-size="34.5" fill="#222" text-anchor="middle" stroke="#222" stroke-width="0.50">39</text>
<text transform="translate(1313.0 940.5) scale(0.900 1)" font-family='"Liberation Sans", sans-serif' font-size="34.5" fill="#222" text-anchor="middle" stroke="#222" stroke-width="0.50">40</text>
<text transform="translate(1425.3 940.5) scale(0.900 1)" font-family='"Liberation Sans", sans-serif' font-size="34.5" fill="#222" text-anchor="middle" stroke="#222" stroke-width="0.50">41</text>
<text transform="translate(1550.0 940.5) scale(0.900 1)" font-family='"Liberation Sans", sans-serif' font-size="34.5" fill="#222" text-anchor="middle" stroke="#222" stroke-width="0.50">46</text>
<text transform="translate(1662.4 940.5) scale(0.900 1)" font-family='"Liberation Sans", sans-serif' font-size="34.5" fill="#222" text-anchor="middle" stroke="#222" stroke-width="0.50">47</text>
<text transform="translate(1870.0 940.5) scale(0.900 1)" font-family='"Liberation Sans", sans-serif' font-size="34.5" fill="#222" text-anchor="middle" stroke="#222" stroke-width="0.50">32</text>
<text transform="translate(2039.6 940.5) scale(0.900 1)" font-family='"Liberation Sans", sans-serif' font-size="34.5" fill="#222" text-anchor="middle" stroke="#222" stroke-width="0.50">33</text>
<text x="129.5" y="89.0" font-family='"Liberation Sans", sans-serif' font-size="38.0" fill="#222" text-anchor="start" stroke="#222" stroke-width="0.50">(a)</text>
<text x="1188.0" y="89.5" font-family='"Liberation Sans", sans-serif' font-size="38.0" fill="#222" text-anchor="start" stroke="#222" stroke-width="0.50">(b)</text>
<text x="1501.8" y="89.5" font-family='"Liberation Sans", sans-serif' font-size="38.0" fill="#222" text-anchor="start" stroke="#222" stroke-width="0.50">(c)</text>
<text x="1796.2" y="89.5" font-family='"Liberation Sans", sans-serif' font-size="38.0" fill="#222" text-anchor="start" stroke="#222" stroke-width="0.50">(d)</text>
<text x="1006.2" y="271.0" font-family='"Liberation Sans", sans-serif' font-size="38.0" fill="#5cb85c" text-anchor="start" stroke="#5cb85c" stroke-width="0.50">0BMN</text>
<text x="1007.4" y="461.5" font-family='"Liberation Sans", sans-serif' font-size="38.0" fill="#a23040" text-anchor="start" stroke="#a23040" stroke-width="0.50">1BMN</text>
<text x="1005.8" y="644.0" font-family='"Liberation Sans", sans-serif' font-size="38.0" fill="#30307e" text-anchor="start" stroke="#30307e" stroke-width="0.50">3BMN</text>
<text x="1006.5" y="827.0" font-family='"Liberation Sans", sans-serif' font-size="38.0" fill="#3b7373" text-anchor="start" stroke="#3b7373" stroke-width="0.50">5BMN</text>
<text transform="translate(318.0 214.5) rotate(-90) scale(1.100 1)" font-family='"Liberation Sans", sans-serif' font-size="36.5" fill="#111" stroke="#111" stroke-width="0.50" text-anchor="middle">(100)</text>
<text transform="translate(458.0 104.3) rotate(-90) scale(1.100 1)" font-family='"Liberation Sans", sans-serif' font-size="36.5" fill="#111" stroke="#111" stroke-width="0.50" text-anchor="middle">(110)</text>
<text transform="translate(567.8 210.5) rotate(-90) scale(1.100 1)" font-family='"Liberation Sans", sans-serif' font-size="36.5" fill="#111" stroke="#111" stroke-width="0.50" text-anchor="middle">(111)</text>
<text transform="translate(668.8 195.0) rotate(-90) scale(1.100 1)" font-family='"Liberation Sans", sans-serif' font-size="36.5" fill="#111" stroke="#111" stroke-width="0.50" text-anchor="middle">(200)</text>
<text transform="translate(750.3 229.5) rotate(-90) scale(1.100 1)" font-family='"Liberation Sans", sans-serif' font-size="36.5" fill="#111" stroke="#111" stroke-width="0.50" text-anchor="middle">(210)</text>
<text transform="translate(835.8 199.5) rotate(-90) scale(1.100 1)" font-family='"Liberation Sans", sans-serif' font-size="36.5" fill="#111" stroke="#111" stroke-width="0.50" text-anchor="middle">(211)</text>
<text transform="translate(980.8 223.5) rotate(-90) scale(1.100 1)" font-family='"Liberation Sans", sans-serif' font-size="36.5" fill="#111" stroke="#111" stroke-width="0.50" text-anchor="middle">(220)</text>
<text transform="translate(1337.5 118.5) rotate(-90) scale(1.100 1)" font-family='"Liberation Sans", sans-serif' font-size="36.5" fill="#111" stroke="#111" stroke-width="0.50" text-anchor="middle">(111)</text>
<text transform="translate(1639.3 97.0) rotate(-90) scale(1.100 1)" font-family='"Liberation Sans", sans-serif' font-size="36.5" fill="#111" stroke="#111" stroke-width="0.50" text-anchor="middle">(200)</text>
<text transform="translate(1609.3 702.5) rotate(-90) scale(1.100 1)" font-family='"Liberation Sans", sans-serif' font-size="36.5" fill="#111" stroke="#111" stroke-width="0.50" text-anchor="middle">(002)</text>
<text transform="translate(1655.7 683.7) rotate(-90) scale(1.100 1)" font-family='"Liberation Sans", sans-serif' font-size="36.5" fill="#111" stroke="#111" stroke-width="0.50" text-anchor="middle">(200)</text>
<text transform="translate(1968.6 100.7) rotate(-90) scale(1.100 1)" font-family='"Liberation Sans", sans-serif' font-size="36.5" fill="#111" stroke="#111" stroke-width="0.50" text-anchor="middle">(110)</text>
<text transform="translate(62.7 496.1) rotate(-90) scale(1.085 1)" font-family='"Liberation Sans", sans-serif' font-size="36.5" fill="#1a1a1a" stroke="#1a1a1a" stroke-width="0.50" text-anchor="middle">Intensity (a. u.)</text>
<text x="559.9" y="1027.0" font-family='"Liberation Sans", sans-serif' font-size="83.0" fill="#111" text-anchor="start" stroke="#111" stroke-width="0.50">2</text>
<text transform="translate(608.0 1027.0) scale(1.120 1)" font-family='"Liberation Serif", serif' font-size="72.0" fill="#111" text-anchor="start" stroke="#111" stroke-width="0.25">θ</text>
<text x="667.1" y="1025.5" font-family='"Liberation Serif", serif' font-size="53.0" fill="#2a2a2a" text-anchor="start" letter-spacing="3.3">(°)</text>
<text x="1239.8" y="1027.0" font-family='"Liberation Sans", sans-serif' font-size="83.0" fill="#111" text-anchor="start" stroke="#111" stroke-width="0.50">2</text>
<text transform="translate(1288.0 1027.0) scale(1.120 1)" font-family='"Liberation Serif", serif' font-size="72.0" fill="#111" text-anchor="start" stroke="#111" stroke-width="0.25">θ</text>
<text x="1347.1" y="1025.5" font-family='"Liberation Serif", serif' font-size="53.0" fill="#2a2a2a" text-anchor="start" letter-spacing="3.3">(°)</text>
<text x="1561.8" y="1027.0" font-family='"Liberation Sans", sans-serif' font-size="83.0" fill="#111" text-anchor="start" stroke="#111" stroke-width="0.50">2</text>
<text transform="translate(1610.0 1027.0) scale(1.120 1)" font-family='"Liberation Serif", serif' font-size="72.0" fill="#111" text-anchor="start" stroke="#111" stroke-width="0.25">θ</text>
<text x="1669.1" y="1025.5" font-family='"Liberation Serif", serif' font-size="53.0" fill="#2a2a2a" text-anchor="start" letter-spacing="3.3">(°)</text>
<text x="1869.8" y="1020.0" font-family='"Liberation Sans", sans-serif' font-size="83.0" fill="#111" text-anchor="start" stroke="#111" stroke-width="0.50">2</text>
<text transform="translate(1918.0 1020.0) scale(1.120 1)" font-family='"Liberation Serif", serif' font-size="72.0" fill="#111" text-anchor="start" stroke="#111" stroke-width="0.25">θ</text>
<text x="1977.1" y="1018.5" font-family='"Liberation Serif", serif' font-size="53.0" fill="#2a2a2a" text-anchor="start" letter-spacing="3.3">(°)</text>
</g>
</g>
</svg>
</body></html>
